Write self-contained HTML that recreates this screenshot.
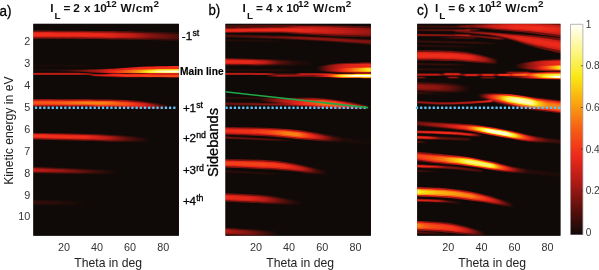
<!DOCTYPE html>
<html><head><meta charset="utf-8"><title>figure</title>
<style>
html,body{margin:0;padding:0;background:#fff}
svg{display:block}
text{font-family:"Liberation Sans",sans-serif;fill:#222}
.tt{font-weight:bold;font-size:11.8px;fill:#111}
.ss{font-size:9.9px}
.tk{font-size:10.8px;fill:#333}
.lb{font-size:12.2px;fill:#222}
.pl{font-size:15.4px;fill:#000;stroke:#000;stroke-width:.3px}
.sb{font-size:11.6px;fill:#000;stroke:#000;stroke-width:.3px}
.cb{font-size:10.1px;fill:#3a3a3a}
.i stop{stop-color:#fff}
</style></head><body>
<svg width="599" height="270" viewBox="0 0 599 270">
<defs>
<filter id="hot" filterUnits="userSpaceOnUse" x="0" y="0" width="599" height="270" color-interpolation-filters="sRGB">
<feComponentTransfer>
<feFuncR type="table" tableValues="0.06 0.38 0.70 0.935 0.965 0.975 0.98 0.99 1"/>
<feFuncG type="table" tableValues="0.04 0.065 0.10 0.165 0.36 0.65 0.91 0.965 1"/>
<feFuncB type="table" tableValues="0.03 0.05 0.08 0.105 0.08 0.065 0.08 0.54 0.985"/>
</feComponentTransfer>
</filter>
<filter id="bl" filterUnits="userSpaceOnUse" x="0" y="0" width="599" height="270" color-interpolation-filters="sRGB"><feGaussianBlur stdDeviation="1.0 0.55"/></filter>
<linearGradient id="cbar" x1="0" y1="1" x2="0" y2="0">
<stop offset="0" stop-color="#0f0a08"/><stop offset="0.125" stop-color="#5e100d"/><stop offset="0.25" stop-color="#b01a15"/><stop offset="0.375" stop-color="#ee2a1b"/><stop offset="0.5" stop-color="#f65c14"/><stop offset="0.625" stop-color="#f9a510"/><stop offset="0.75" stop-color="#f9e814"/><stop offset="0.875" stop-color="#fdf689"/><stop offset="1" stop-color="#fffffb"/>
</linearGradient>
<clipPath id="clipA"><rect x="33.3" y="23.8" width="145.6" height="211.9"/></clipPath><clipPath id="clipB"><rect x="225.4" y="23.8" width="145.5" height="211.9"/></clipPath><clipPath id="clipC"><rect x="417.2" y="23.8" width="143.3" height="211.9"/></clipPath><g class="i"><linearGradient id="g1" gradientUnits="userSpaceOnUse" x1="33.3" x2="178.9"><stop offset="0.000" stop-opacity="0.154"/><stop offset="0.458" stop-opacity="0.150"/><stop offset="0.650" stop-opacity="0.119"/><stop offset="0.815" stop-opacity="0.073"/><stop offset="1.000" stop-opacity="0.038"/></linearGradient><linearGradient id="g2" gradientUnits="userSpaceOnUse" x1="33.3" x2="178.9"><stop offset="0.000" stop-opacity="0.204"/><stop offset="0.458" stop-opacity="0.198"/><stop offset="0.650" stop-opacity="0.152"/><stop offset="0.815" stop-opacity="0.089"/><stop offset="1.000" stop-opacity="0.045"/></linearGradient><linearGradient id="g3" gradientUnits="userSpaceOnUse" x1="33.3" x2="178.9"><stop offset="0.000" stop-opacity="0.086"/><stop offset="0.458" stop-opacity="0.082"/><stop offset="0.650" stop-opacity="0.060"/><stop offset="0.815" stop-opacity="0.032"/><stop offset="1.000" stop-opacity="0.016"/></linearGradient><linearGradient id="g4" gradientUnits="userSpaceOnUse" x1="33.3" x2="100.0"><stop offset="0.000" stop-opacity="0.008"/><stop offset="0.700" stop-opacity="0.008"/><stop offset="1.000" stop-opacity="0.000"/></linearGradient><linearGradient id="g5" gradientUnits="userSpaceOnUse" x1="33.3" x2="100.0"><stop offset="0.000" stop-opacity="0.009"/><stop offset="0.700" stop-opacity="0.009"/><stop offset="1.000" stop-opacity="0.000"/></linearGradient><linearGradient id="g6" gradientUnits="userSpaceOnUse" x1="33.3" x2="100.0"><stop offset="0.000" stop-opacity="0.003"/><stop offset="0.700" stop-opacity="0.003"/><stop offset="1.000" stop-opacity="0.000"/></linearGradient><linearGradient id="g7" gradientUnits="userSpaceOnUse" x1="33.3" x2="110.0"><stop offset="0.000" stop-opacity="0.010"/><stop offset="0.739" stop-opacity="0.012"/><stop offset="1.000" stop-opacity="0.000"/></linearGradient><linearGradient id="g8" gradientUnits="userSpaceOnUse" x1="33.3" x2="110.0"><stop offset="0.000" stop-opacity="0.011"/><stop offset="0.739" stop-opacity="0.013"/><stop offset="1.000" stop-opacity="0.000"/></linearGradient><linearGradient id="g9" gradientUnits="userSpaceOnUse" x1="33.3" x2="110.0"><stop offset="0.000" stop-opacity="0.004"/><stop offset="0.739" stop-opacity="0.004"/><stop offset="1.000" stop-opacity="0.000"/></linearGradient><linearGradient id="g10" gradientUnits="userSpaceOnUse" x1="55.0" x2="178.9"><stop offset="0.000" stop-opacity="0.000"/><stop offset="0.161" stop-opacity="0.080"/><stop offset="0.299" stop-opacity="0.200"/><stop offset="0.428" stop-opacity="0.300"/><stop offset="0.565" stop-opacity="0.340"/><stop offset="0.726" stop-opacity="0.370"/><stop offset="1.000" stop-opacity="0.390"/></linearGradient><linearGradient id="g11" gradientUnits="userSpaceOnUse" x1="100.0" x2="178.9"><stop offset="0.000" stop-opacity="0.000"/><stop offset="0.203" stop-opacity="0.140"/><stop offset="0.355" stop-opacity="0.240"/><stop offset="0.532" stop-opacity="0.360"/><stop offset="0.735" stop-opacity="0.480"/><stop offset="1.000" stop-opacity="0.540"/></linearGradient><linearGradient id="g12" gradientUnits="userSpaceOnUse" x1="122.0" x2="178.9"><stop offset="0.000" stop-opacity="0.000"/><stop offset="0.316" stop-opacity="0.120"/><stop offset="0.580" stop-opacity="0.420"/><stop offset="1.000" stop-opacity="0.550"/></linearGradient><linearGradient id="g13" gradientUnits="userSpaceOnUse" x1="140.0" x2="178.9"><stop offset="0.000" stop-opacity="0.000"/><stop offset="0.308" stop-opacity="0.300"/><stop offset="0.566" stop-opacity="0.700"/><stop offset="0.823" stop-opacity="0.950"/><stop offset="1.000" stop-opacity="1.000"/></linearGradient><linearGradient id="g14" gradientUnits="userSpaceOnUse" x1="88.0" x2="178.9"><stop offset="0.000" stop-opacity="0.000"/><stop offset="0.187" stop-opacity="0.000"/><stop offset="0.407" style="stop-color:#000" stop-opacity="0.500"/><stop offset="0.682" style="stop-color:#000" stop-opacity="0.500"/><stop offset="1.000" style="stop-color:#000" stop-opacity="0.350"/></linearGradient><linearGradient id="g15" gradientUnits="userSpaceOnUse" x1="33.3" x2="178.9"><stop offset="0.000" stop-opacity="0.147"/><stop offset="0.307" stop-opacity="0.147"/><stop offset="0.376" stop-opacity="0.095"/><stop offset="0.444" stop-opacity="0.130"/><stop offset="0.630" stop-opacity="0.190"/><stop offset="1.000" stop-opacity="0.207"/></linearGradient><linearGradient id="g16" gradientUnits="userSpaceOnUse" x1="33.3" x2="178.9"><stop offset="0.000" stop-opacity="0.210"/><stop offset="0.307" stop-opacity="0.210"/><stop offset="0.376" stop-opacity="0.128"/><stop offset="0.444" stop-opacity="0.182"/><stop offset="0.630" stop-opacity="0.287"/><stop offset="1.000" stop-opacity="0.320"/></linearGradient><linearGradient id="g17" gradientUnits="userSpaceOnUse" x1="33.3" x2="172.0"><stop offset="0.000" stop-opacity="0.192"/><stop offset="0.193" stop-opacity="0.200"/><stop offset="0.373" stop-opacity="0.226"/><stop offset="0.517" stop-opacity="0.226"/><stop offset="0.661" stop-opacity="0.192"/><stop offset="0.805" stop-opacity="0.127"/><stop offset="0.913" stop-opacity="0.050"/><stop offset="1.000" stop-opacity="0.000"/></linearGradient><linearGradient id="g18" gradientUnits="userSpaceOnUse" x1="33.3" x2="172.0"><stop offset="0.000" stop-opacity="0.267"/><stop offset="0.193" stop-opacity="0.282"/><stop offset="0.373" stop-opacity="0.328"/><stop offset="0.517" stop-opacity="0.328"/><stop offset="0.661" stop-opacity="0.267"/><stop offset="0.805" stop-opacity="0.163"/><stop offset="0.913" stop-opacity="0.059"/><stop offset="1.000" stop-opacity="0.000"/></linearGradient><linearGradient id="g19" gradientUnits="userSpaceOnUse" x1="33.3" x2="172.0"><stop offset="0.000" stop-opacity="0.122"/><stop offset="0.193" stop-opacity="0.131"/><stop offset="0.373" stop-opacity="0.163"/><stop offset="0.517" stop-opacity="0.163"/><stop offset="0.661" stop-opacity="0.122"/><stop offset="0.805" stop-opacity="0.065"/><stop offset="0.913" stop-opacity="0.021"/><stop offset="1.000" stop-opacity="0.000"/></linearGradient><linearGradient id="g20" gradientUnits="userSpaceOnUse" x1="33.3" x2="150.0"><stop offset="0.000" stop-opacity="0.161"/><stop offset="0.443" stop-opacity="0.154"/><stop offset="0.640" stop-opacity="0.108"/><stop offset="0.811" stop-opacity="0.046"/><stop offset="1.000" stop-opacity="0.000"/></linearGradient><linearGradient id="g21" gradientUnits="userSpaceOnUse" x1="33.3" x2="150.0"><stop offset="0.000" stop-opacity="0.216"/><stop offset="0.443" stop-opacity="0.204"/><stop offset="0.640" stop-opacity="0.136"/><stop offset="0.811" stop-opacity="0.054"/><stop offset="1.000" stop-opacity="0.000"/></linearGradient><linearGradient id="g22" gradientUnits="userSpaceOnUse" x1="33.3" x2="150.0"><stop offset="0.000" stop-opacity="0.092"/><stop offset="0.443" stop-opacity="0.086"/><stop offset="0.640" stop-opacity="0.052"/><stop offset="0.811" stop-opacity="0.019"/><stop offset="1.000" stop-opacity="0.000"/></linearGradient><linearGradient id="g23" gradientUnits="userSpaceOnUse" x1="33.3" x2="118.0"><stop offset="0.000" stop-opacity="0.111"/><stop offset="0.339" stop-opacity="0.084"/><stop offset="0.693" stop-opacity="0.035"/><stop offset="1.000" stop-opacity="0.000"/></linearGradient><linearGradient id="g24" gradientUnits="userSpaceOnUse" x1="33.3" x2="118.0"><stop offset="0.000" stop-opacity="0.141"/><stop offset="0.339" stop-opacity="0.104"/><stop offset="0.693" stop-opacity="0.040"/><stop offset="1.000" stop-opacity="0.000"/></linearGradient><linearGradient id="g25" gradientUnits="userSpaceOnUse" x1="33.3" x2="118.0"><stop offset="0.000" stop-opacity="0.055"/><stop offset="0.339" stop-opacity="0.039"/><stop offset="0.693" stop-opacity="0.014"/><stop offset="1.000" stop-opacity="0.000"/></linearGradient><linearGradient id="g26" gradientUnits="userSpaceOnUse" x1="33.3" x2="88.0"><stop offset="0.000" stop-opacity="0.025"/><stop offset="0.488" stop-opacity="0.015"/><stop offset="1.000" stop-opacity="0.000"/></linearGradient><linearGradient id="g27" gradientUnits="userSpaceOnUse" x1="33.3" x2="88.0"><stop offset="0.000" stop-opacity="0.029"/><stop offset="0.488" stop-opacity="0.018"/><stop offset="1.000" stop-opacity="0.000"/></linearGradient><linearGradient id="g28" gradientUnits="userSpaceOnUse" x1="33.3" x2="88.0"><stop offset="0.000" stop-opacity="0.010"/><stop offset="0.488" stop-opacity="0.006"/><stop offset="1.000" stop-opacity="0.000"/></linearGradient><linearGradient id="g29" gradientUnits="userSpaceOnUse" x1="225.4" x2="370.9"><stop offset="0.000" stop-opacity="0.038"/><stop offset="0.444" stop-opacity="0.046"/><stop offset="0.719" stop-opacity="0.023"/><stop offset="1.000" stop-opacity="0.012"/></linearGradient><linearGradient id="g30" gradientUnits="userSpaceOnUse" x1="225.4" x2="370.9"><stop offset="0.000" stop-opacity="0.045"/><stop offset="0.444" stop-opacity="0.054"/><stop offset="0.719" stop-opacity="0.027"/><stop offset="1.000" stop-opacity="0.013"/></linearGradient><linearGradient id="g31" gradientUnits="userSpaceOnUse" x1="225.4" x2="370.9"><stop offset="0.000" stop-opacity="0.016"/><stop offset="0.444" stop-opacity="0.019"/><stop offset="0.719" stop-opacity="0.009"/><stop offset="1.000" stop-opacity="0.004"/></linearGradient><linearGradient id="g32" gradientUnits="userSpaceOnUse" x1="225.4" x2="370.9"><stop offset="0.000" stop-opacity="0.146"/><stop offset="0.238" stop-opacity="0.150"/><stop offset="0.513" stop-opacity="0.146"/><stop offset="0.753" stop-opacity="0.119"/><stop offset="1.000" stop-opacity="0.084"/></linearGradient><linearGradient id="g33" gradientUnits="userSpaceOnUse" x1="225.4" x2="370.9"><stop offset="0.000" stop-opacity="0.192"/><stop offset="0.238" stop-opacity="0.198"/><stop offset="0.513" stop-opacity="0.192"/><stop offset="0.753" stop-opacity="0.152"/><stop offset="1.000" stop-opacity="0.104"/></linearGradient><linearGradient id="g34" gradientUnits="userSpaceOnUse" x1="225.4" x2="370.9"><stop offset="0.000" stop-opacity="0.079"/><stop offset="0.238" stop-opacity="0.082"/><stop offset="0.513" stop-opacity="0.079"/><stop offset="0.753" stop-opacity="0.060"/><stop offset="1.000" stop-opacity="0.039"/></linearGradient><linearGradient id="g35" gradientUnits="userSpaceOnUse" x1="225.4" x2="370.9"><stop offset="0.000" stop-opacity="0.038"/><stop offset="0.307" stop-opacity="0.054"/><stop offset="0.513" stop-opacity="0.077"/><stop offset="0.788" stop-opacity="0.077"/><stop offset="1.000" stop-opacity="0.065"/></linearGradient><linearGradient id="g36" gradientUnits="userSpaceOnUse" x1="225.4" x2="370.9"><stop offset="0.000" stop-opacity="0.045"/><stop offset="0.307" stop-opacity="0.064"/><stop offset="0.513" stop-opacity="0.094"/><stop offset="0.788" stop-opacity="0.094"/><stop offset="1.000" stop-opacity="0.079"/></linearGradient><linearGradient id="g37" gradientUnits="userSpaceOnUse" x1="225.4" x2="370.9"><stop offset="0.000" stop-opacity="0.016"/><stop offset="0.307" stop-opacity="0.023"/><stop offset="0.513" stop-opacity="0.034"/><stop offset="0.788" stop-opacity="0.034"/><stop offset="1.000" stop-opacity="0.028"/></linearGradient><linearGradient id="g38" gradientUnits="userSpaceOnUse" x1="225.4" x2="285.0"><stop offset="0.000" stop-opacity="0.015"/><stop offset="0.748" stop-opacity="0.012"/><stop offset="1.000" stop-opacity="0.000"/></linearGradient><linearGradient id="g39" gradientUnits="userSpaceOnUse" x1="225.4" x2="285.0"><stop offset="0.000" stop-opacity="0.018"/><stop offset="0.748" stop-opacity="0.013"/><stop offset="1.000" stop-opacity="0.000"/></linearGradient><linearGradient id="g40" gradientUnits="userSpaceOnUse" x1="225.4" x2="285.0"><stop offset="0.000" stop-opacity="0.006"/><stop offset="0.748" stop-opacity="0.004"/><stop offset="1.000" stop-opacity="0.000"/></linearGradient><linearGradient id="g41" gradientUnits="userSpaceOnUse" x1="225.4" x2="315.0"><stop offset="0.000" stop-opacity="0.150"/><stop offset="0.275" stop-opacity="0.146"/><stop offset="0.442" stop-opacity="0.115"/><stop offset="0.587" stop-opacity="0.054"/><stop offset="0.743" stop-opacity="0.019"/><stop offset="1.000" stop-opacity="0.000"/></linearGradient><linearGradient id="g42" gradientUnits="userSpaceOnUse" x1="225.4" x2="315.0"><stop offset="0.000" stop-opacity="0.198"/><stop offset="0.275" stop-opacity="0.192"/><stop offset="0.442" stop-opacity="0.146"/><stop offset="0.587" stop-opacity="0.064"/><stop offset="0.743" stop-opacity="0.022"/><stop offset="1.000" stop-opacity="0.000"/></linearGradient><linearGradient id="g43" gradientUnits="userSpaceOnUse" x1="225.4" x2="315.0"><stop offset="0.000" stop-opacity="0.082"/><stop offset="0.275" stop-opacity="0.079"/><stop offset="0.442" stop-opacity="0.057"/><stop offset="0.587" stop-opacity="0.023"/><stop offset="0.743" stop-opacity="0.008"/><stop offset="1.000" stop-opacity="0.000"/></linearGradient><linearGradient id="g44" gradientUnits="userSpaceOnUse" x1="225.4" x2="295.0"><stop offset="0.000" stop-opacity="0.015"/><stop offset="0.784" stop-opacity="0.015"/><stop offset="1.000" stop-opacity="0.000"/></linearGradient><linearGradient id="g45" gradientUnits="userSpaceOnUse" x1="225.4" x2="295.0"><stop offset="0.000" stop-opacity="0.018"/><stop offset="0.784" stop-opacity="0.018"/><stop offset="1.000" stop-opacity="0.000"/></linearGradient><linearGradient id="g46" gradientUnits="userSpaceOnUse" x1="225.4" x2="295.0"><stop offset="0.000" stop-opacity="0.006"/><stop offset="0.784" stop-opacity="0.006"/><stop offset="1.000" stop-opacity="0.000"/></linearGradient><linearGradient id="g47" gradientUnits="userSpaceOnUse" x1="225.4" x2="340.0"><stop offset="0.000" stop-opacity="0.143"/><stop offset="0.319" stop-opacity="0.138"/><stop offset="0.389" stop-opacity="0.108"/><stop offset="0.442" stop-opacity="0.035"/><stop offset="0.616" stop-opacity="0.035"/><stop offset="0.668" stop-opacity="0.121"/><stop offset="0.825" stop-opacity="0.117"/><stop offset="0.930" stop-opacity="0.086"/><stop offset="1.000" stop-opacity="0.000"/></linearGradient><linearGradient id="g48" gradientUnits="userSpaceOnUse" x1="225.4" x2="340.0"><stop offset="0.000" stop-opacity="0.203"/><stop offset="0.319" stop-opacity="0.196"/><stop offset="0.389" stop-opacity="0.148"/><stop offset="0.442" stop-opacity="0.044"/><stop offset="0.616" stop-opacity="0.044"/><stop offset="0.668" stop-opacity="0.168"/><stop offset="0.825" stop-opacity="0.161"/><stop offset="0.930" stop-opacity="0.116"/><stop offset="1.000" stop-opacity="0.000"/></linearGradient><linearGradient id="g49" gradientUnits="userSpaceOnUse" x1="266.0" x2="370.9"><stop offset="0.000" stop-opacity="0.000"/><stop offset="0.114" stop-opacity="0.125"/><stop offset="0.305" stop-opacity="0.110"/><stop offset="0.439" stop-opacity="0.080"/><stop offset="0.534" stop-opacity="0.125"/><stop offset="0.610" stop-opacity="0.210"/><stop offset="0.686" stop-opacity="0.300"/><stop offset="0.763" stop-opacity="0.350"/><stop offset="1.000" stop-opacity="0.375"/></linearGradient><linearGradient id="g50" gradientUnits="userSpaceOnUse" x1="266.0" x2="370.9"><stop offset="0.000" stop-opacity="0.000"/><stop offset="0.114" stop-opacity="0.143"/><stop offset="0.305" stop-opacity="0.124"/><stop offset="0.439" stop-opacity="0.087"/><stop offset="0.534" stop-opacity="0.143"/><stop offset="0.610" stop-opacity="0.266"/><stop offset="0.686" stop-opacity="0.429"/><stop offset="0.763" stop-opacity="0.538"/><stop offset="1.000" stop-opacity="0.600"/></linearGradient><linearGradient id="g51" gradientUnits="userSpaceOnUse" x1="330.0" x2="370.9"><stop offset="0.000" stop-opacity="0.000"/><stop offset="0.171" stop-opacity="0.250"/><stop offset="0.367" stop-opacity="0.500"/><stop offset="0.587" stop-opacity="1.000"/><stop offset="1.000" stop-opacity="1.000"/></linearGradient><linearGradient id="g52" gradientUnits="userSpaceOnUse" x1="316.0" x2="370.9"><stop offset="0.000" stop-opacity="0.000"/><stop offset="0.255" stop-opacity="0.100"/><stop offset="0.528" stop-opacity="0.165"/><stop offset="1.000" stop-opacity="0.190"/></linearGradient><linearGradient id="g53" gradientUnits="userSpaceOnUse" x1="316.0" x2="370.9"><stop offset="0.000" stop-opacity="0.000"/><stop offset="0.255" stop-opacity="0.111"/><stop offset="0.528" stop-opacity="0.198"/><stop offset="1.000" stop-opacity="0.235"/></linearGradient><linearGradient id="g54" gradientUnits="userSpaceOnUse" x1="330.0" x2="370.9"><stop offset="0.000" stop-opacity="0.000"/><stop offset="0.293" stop-opacity="0.050"/><stop offset="0.489" stop-opacity="0.125"/><stop offset="0.733" stop-opacity="0.225"/><stop offset="1.000" stop-opacity="0.330"/></linearGradient><linearGradient id="g55" gradientUnits="userSpaceOnUse" x1="330.0" x2="370.9"><stop offset="0.000" stop-opacity="0.000"/><stop offset="0.293" stop-opacity="0.053"/><stop offset="0.489" stop-opacity="0.143"/><stop offset="0.733" stop-opacity="0.290"/><stop offset="1.000" stop-opacity="0.493"/></linearGradient><linearGradient id="g56" gradientUnits="userSpaceOnUse" x1="225.4" x2="290.0"><stop offset="0.000" stop-opacity="0.019"/><stop offset="0.690" stop-opacity="0.019"/><stop offset="1.000" stop-opacity="0.000"/></linearGradient><linearGradient id="g57" gradientUnits="userSpaceOnUse" x1="225.4" x2="290.0"><stop offset="0.000" stop-opacity="0.022"/><stop offset="0.690" stop-opacity="0.022"/><stop offset="1.000" stop-opacity="0.000"/></linearGradient><linearGradient id="g58" gradientUnits="userSpaceOnUse" x1="225.4" x2="290.0"><stop offset="0.000" stop-opacity="0.008"/><stop offset="0.690" stop-opacity="0.008"/><stop offset="1.000" stop-opacity="0.000"/></linearGradient><linearGradient id="g59" gradientUnits="userSpaceOnUse" x1="225.4" x2="318.0"><stop offset="0.000" stop-opacity="0.058"/><stop offset="0.590" stop-opacity="0.077"/><stop offset="0.806" stop-opacity="0.065"/><stop offset="1.000" stop-opacity="0.000"/></linearGradient><linearGradient id="g60" gradientUnits="userSpaceOnUse" x1="225.4" x2="318.0"><stop offset="0.000" stop-opacity="0.069"/><stop offset="0.590" stop-opacity="0.094"/><stop offset="0.806" stop-opacity="0.079"/><stop offset="1.000" stop-opacity="0.000"/></linearGradient><linearGradient id="g61" gradientUnits="userSpaceOnUse" x1="225.4" x2="318.0"><stop offset="0.000" stop-opacity="0.025"/><stop offset="0.590" stop-opacity="0.034"/><stop offset="0.806" stop-opacity="0.028"/><stop offset="1.000" stop-opacity="0.000"/></linearGradient><linearGradient id="g62" gradientUnits="userSpaceOnUse" x1="258.0" x2="369.0"><stop offset="0.000" stop-opacity="0.000"/><stop offset="0.108" stop-opacity="0.054"/><stop offset="0.234" stop-opacity="0.108"/><stop offset="0.360" stop-opacity="0.138"/><stop offset="0.486" stop-opacity="0.177"/><stop offset="0.595" stop-opacity="0.217"/><stop offset="0.703" stop-opacity="0.200"/><stop offset="0.811" stop-opacity="0.154"/><stop offset="0.919" stop-opacity="0.108"/><stop offset="1.000" stop-opacity="0.038"/></linearGradient><linearGradient id="g63" gradientUnits="userSpaceOnUse" x1="258.0" x2="369.0"><stop offset="0.000" stop-opacity="0.000"/><stop offset="0.108" stop-opacity="0.064"/><stop offset="0.234" stop-opacity="0.136"/><stop offset="0.360" stop-opacity="0.180"/><stop offset="0.486" stop-opacity="0.241"/><stop offset="0.595" stop-opacity="0.312"/><stop offset="0.703" stop-opacity="0.282"/><stop offset="0.811" stop-opacity="0.204"/><stop offset="0.919" stop-opacity="0.136"/><stop offset="1.000" stop-opacity="0.045"/></linearGradient><linearGradient id="g64" gradientUnits="userSpaceOnUse" x1="258.0" x2="369.0"><stop offset="0.000" stop-opacity="0.000"/><stop offset="0.108" stop-opacity="0.023"/><stop offset="0.234" stop-opacity="0.052"/><stop offset="0.360" stop-opacity="0.073"/><stop offset="0.486" stop-opacity="0.106"/><stop offset="0.595" stop-opacity="0.151"/><stop offset="0.703" stop-opacity="0.131"/><stop offset="0.811" stop-opacity="0.086"/><stop offset="0.919" stop-opacity="0.052"/><stop offset="1.000" stop-opacity="0.016"/></linearGradient><linearGradient id="g65" gradientUnits="userSpaceOnUse" x1="225.4" x2="370.9"><stop offset="0.000" stop-opacity="0.154"/><stop offset="0.169" stop-opacity="0.157"/><stop offset="0.307" stop-opacity="0.184"/><stop offset="0.410" stop-opacity="0.226"/><stop offset="0.499" stop-opacity="0.226"/><stop offset="0.581" stop-opacity="0.161"/><stop offset="0.664" stop-opacity="0.100"/><stop offset="0.740" stop-opacity="0.038"/><stop offset="0.808" stop-opacity="0.012"/><stop offset="1.000" stop-opacity="0.004"/></linearGradient><linearGradient id="g66" gradientUnits="userSpaceOnUse" x1="225.4" x2="370.9"><stop offset="0.000" stop-opacity="0.204"/><stop offset="0.169" stop-opacity="0.210"/><stop offset="0.307" stop-opacity="0.254"/><stop offset="0.410" stop-opacity="0.328"/><stop offset="0.499" stop-opacity="0.328"/><stop offset="0.581" stop-opacity="0.216"/><stop offset="0.664" stop-opacity="0.125"/><stop offset="0.740" stop-opacity="0.045"/><stop offset="0.808" stop-opacity="0.013"/><stop offset="1.000" stop-opacity="0.004"/></linearGradient><linearGradient id="g67" gradientUnits="userSpaceOnUse" x1="225.4" x2="370.9"><stop offset="0.000" stop-opacity="0.086"/><stop offset="0.169" stop-opacity="0.089"/><stop offset="0.307" stop-opacity="0.114"/><stop offset="0.410" stop-opacity="0.163"/><stop offset="0.499" stop-opacity="0.163"/><stop offset="0.581" stop-opacity="0.092"/><stop offset="0.664" stop-opacity="0.048"/><stop offset="0.740" stop-opacity="0.016"/><stop offset="0.808" stop-opacity="0.004"/><stop offset="1.000" stop-opacity="0.001"/></linearGradient><linearGradient id="g68" gradientUnits="userSpaceOnUse" x1="225.4" x2="295.0"><stop offset="0.000" stop-opacity="0.065"/><stop offset="0.641" stop-opacity="0.042"/><stop offset="1.000" stop-opacity="0.000"/></linearGradient><linearGradient id="g69" gradientUnits="userSpaceOnUse" x1="225.4" x2="295.0"><stop offset="0.000" stop-opacity="0.079"/><stop offset="0.641" stop-opacity="0.050"/><stop offset="1.000" stop-opacity="0.000"/></linearGradient><linearGradient id="g70" gradientUnits="userSpaceOnUse" x1="225.4" x2="295.0"><stop offset="0.000" stop-opacity="0.028"/><stop offset="0.641" stop-opacity="0.017"/><stop offset="1.000" stop-opacity="0.000"/></linearGradient><linearGradient id="g71" gradientUnits="userSpaceOnUse" x1="225.4" x2="328.0"><stop offset="0.000" stop-opacity="0.173"/><stop offset="0.357" stop-opacity="0.177"/><stop offset="0.581" stop-opacity="0.161"/><stop offset="0.747" stop-opacity="0.115"/><stop offset="0.883" stop-opacity="0.038"/><stop offset="1.000" stop-opacity="0.000"/></linearGradient><linearGradient id="g72" gradientUnits="userSpaceOnUse" x1="225.4" x2="328.0"><stop offset="0.000" stop-opacity="0.235"/><stop offset="0.357" stop-opacity="0.241"/><stop offset="0.581" stop-opacity="0.216"/><stop offset="0.747" stop-opacity="0.146"/><stop offset="0.883" stop-opacity="0.045"/><stop offset="1.000" stop-opacity="0.000"/></linearGradient><linearGradient id="g73" gradientUnits="userSpaceOnUse" x1="225.4" x2="328.0"><stop offset="0.000" stop-opacity="0.102"/><stop offset="0.357" stop-opacity="0.106"/><stop offset="0.581" stop-opacity="0.092"/><stop offset="0.747" stop-opacity="0.057"/><stop offset="0.883" stop-opacity="0.016"/><stop offset="1.000" stop-opacity="0.000"/></linearGradient><linearGradient id="g74" gradientUnits="userSpaceOnUse" x1="225.4" x2="285.0"><stop offset="0.000" stop-opacity="0.023"/><stop offset="0.664" stop-opacity="0.015"/><stop offset="1.000" stop-opacity="0.000"/></linearGradient><linearGradient id="g75" gradientUnits="userSpaceOnUse" x1="225.4" x2="285.0"><stop offset="0.000" stop-opacity="0.027"/><stop offset="0.664" stop-opacity="0.018"/><stop offset="1.000" stop-opacity="0.000"/></linearGradient><linearGradient id="g76" gradientUnits="userSpaceOnUse" x1="225.4" x2="285.0"><stop offset="0.000" stop-opacity="0.009"/><stop offset="0.664" stop-opacity="0.006"/><stop offset="1.000" stop-opacity="0.000"/></linearGradient><linearGradient id="g77" gradientUnits="userSpaceOnUse" x1="225.4" x2="303.0"><stop offset="0.000" stop-opacity="0.150"/><stop offset="0.317" stop-opacity="0.142"/><stop offset="0.523" stop-opacity="0.104"/><stop offset="0.704" stop-opacity="0.054"/><stop offset="0.858" stop-opacity="0.019"/><stop offset="1.000" stop-opacity="0.000"/></linearGradient><linearGradient id="g78" gradientUnits="userSpaceOnUse" x1="225.4" x2="303.0"><stop offset="0.000" stop-opacity="0.198"/><stop offset="0.317" stop-opacity="0.186"/><stop offset="0.523" stop-opacity="0.130"/><stop offset="0.704" stop-opacity="0.064"/><stop offset="0.858" stop-opacity="0.022"/><stop offset="1.000" stop-opacity="0.000"/></linearGradient><linearGradient id="g79" gradientUnits="userSpaceOnUse" x1="225.4" x2="303.0"><stop offset="0.000" stop-opacity="0.082"/><stop offset="0.317" stop-opacity="0.076"/><stop offset="0.523" stop-opacity="0.050"/><stop offset="0.704" stop-opacity="0.023"/><stop offset="0.858" stop-opacity="0.008"/><stop offset="1.000" stop-opacity="0.000"/></linearGradient><linearGradient id="g80" gradientUnits="userSpaceOnUse" x1="225.4" x2="280.0"><stop offset="0.000" stop-opacity="0.104"/><stop offset="0.451" stop-opacity="0.069"/><stop offset="0.780" stop-opacity="0.023"/><stop offset="1.000" stop-opacity="0.000"/></linearGradient><linearGradient id="g81" gradientUnits="userSpaceOnUse" x1="225.4" x2="280.0"><stop offset="0.000" stop-opacity="0.130"/><stop offset="0.451" stop-opacity="0.084"/><stop offset="0.780" stop-opacity="0.027"/><stop offset="1.000" stop-opacity="0.000"/></linearGradient><linearGradient id="g82" gradientUnits="userSpaceOnUse" x1="225.4" x2="280.0"><stop offset="0.000" stop-opacity="0.050"/><stop offset="0.451" stop-opacity="0.030"/><stop offset="0.780" stop-opacity="0.009"/><stop offset="1.000" stop-opacity="0.000"/></linearGradient><linearGradient id="g83" gradientUnits="userSpaceOnUse" x1="417.2" x2="470.0"><stop offset="0.000" stop-opacity="0.027"/><stop offset="1.000" stop-opacity="0.038"/></linearGradient><linearGradient id="g84" gradientUnits="userSpaceOnUse" x1="417.2" x2="470.0"><stop offset="0.000" stop-opacity="0.031"/><stop offset="1.000" stop-opacity="0.045"/></linearGradient><linearGradient id="g85" gradientUnits="userSpaceOnUse" x1="417.2" x2="470.0"><stop offset="0.000" stop-opacity="0.011"/><stop offset="1.000" stop-opacity="0.016"/></linearGradient><linearGradient id="g86" gradientUnits="userSpaceOnUse" x1="417.2" x2="470.0"><stop offset="0.000" stop-opacity="0.038"/><stop offset="0.716" stop-opacity="0.058"/><stop offset="1.000" stop-opacity="0.084"/></linearGradient><linearGradient id="g87" gradientUnits="userSpaceOnUse" x1="417.2" x2="470.0"><stop offset="0.000" stop-opacity="0.045"/><stop offset="0.716" stop-opacity="0.069"/><stop offset="1.000" stop-opacity="0.104"/></linearGradient><linearGradient id="g88" gradientUnits="userSpaceOnUse" x1="417.2" x2="470.0"><stop offset="0.000" stop-opacity="0.016"/><stop offset="0.716" stop-opacity="0.025"/><stop offset="1.000" stop-opacity="0.039"/></linearGradient><linearGradient id="g89" gradientUnits="userSpaceOnUse" x1="417.2" x2="470.0"><stop offset="0.000" stop-opacity="0.092"/><stop offset="0.621" stop-opacity="0.077"/><stop offset="1.000" stop-opacity="0.069"/></linearGradient><linearGradient id="g90" gradientUnits="userSpaceOnUse" x1="417.2" x2="470.0"><stop offset="0.000" stop-opacity="0.114"/><stop offset="0.621" stop-opacity="0.094"/><stop offset="1.000" stop-opacity="0.084"/></linearGradient><linearGradient id="g91" gradientUnits="userSpaceOnUse" x1="417.2" x2="470.0"><stop offset="0.000" stop-opacity="0.043"/><stop offset="0.621" stop-opacity="0.034"/><stop offset="1.000" stop-opacity="0.030"/></linearGradient><linearGradient id="g92" gradientUnits="userSpaceOnUse" x1="440.0" x2="475.0"><stop offset="0.000" stop-opacity="0.000"/><stop offset="0.429" stop-opacity="0.038"/><stop offset="1.000" stop-opacity="0.038"/></linearGradient><linearGradient id="g93" gradientUnits="userSpaceOnUse" x1="440.0" x2="475.0"><stop offset="0.000" stop-opacity="0.000"/><stop offset="0.429" stop-opacity="0.045"/><stop offset="1.000" stop-opacity="0.045"/></linearGradient><linearGradient id="g94" gradientUnits="userSpaceOnUse" x1="440.0" x2="475.0"><stop offset="0.000" stop-opacity="0.000"/><stop offset="0.429" stop-opacity="0.016"/><stop offset="1.000" stop-opacity="0.016"/></linearGradient><linearGradient id="g95" gradientUnits="userSpaceOnUse" x1="417.2" x2="500.0"><stop offset="0.000" stop-opacity="0.027"/><stop offset="0.758" stop-opacity="0.027"/><stop offset="1.000" stop-opacity="0.000"/></linearGradient><linearGradient id="g96" gradientUnits="userSpaceOnUse" x1="417.2" x2="500.0"><stop offset="0.000" stop-opacity="0.031"/><stop offset="0.758" stop-opacity="0.031"/><stop offset="1.000" stop-opacity="0.000"/></linearGradient><linearGradient id="g97" gradientUnits="userSpaceOnUse" x1="417.2" x2="500.0"><stop offset="0.000" stop-opacity="0.011"/><stop offset="0.758" stop-opacity="0.011"/><stop offset="1.000" stop-opacity="0.000"/></linearGradient><linearGradient id="g98" gradientUnits="userSpaceOnUse" x1="417.2" x2="480.0"><stop offset="0.000" stop-opacity="0.019"/><stop offset="0.682" stop-opacity="0.015"/><stop offset="1.000" stop-opacity="0.000"/></linearGradient><linearGradient id="g99" gradientUnits="userSpaceOnUse" x1="417.2" x2="480.0"><stop offset="0.000" stop-opacity="0.022"/><stop offset="0.682" stop-opacity="0.018"/><stop offset="1.000" stop-opacity="0.000"/></linearGradient><linearGradient id="g100" gradientUnits="userSpaceOnUse" x1="417.2" x2="480.0"><stop offset="0.000" stop-opacity="0.008"/><stop offset="0.682" stop-opacity="0.006"/><stop offset="1.000" stop-opacity="0.000"/></linearGradient><linearGradient id="g101" gradientUnits="userSpaceOnUse" x1="458.0" x2="560.5"><stop offset="0.000" stop-opacity="0.031"/><stop offset="0.176" stop-opacity="0.077"/><stop offset="0.361" stop-opacity="0.127"/><stop offset="0.556" stop-opacity="0.150"/><stop offset="0.800" stop-opacity="0.154"/><stop offset="1.000" stop-opacity="0.138"/></linearGradient><linearGradient id="g102" gradientUnits="userSpaceOnUse" x1="458.0" x2="560.5"><stop offset="0.000" stop-opacity="0.036"/><stop offset="0.176" stop-opacity="0.094"/><stop offset="0.361" stop-opacity="0.163"/><stop offset="0.556" stop-opacity="0.198"/><stop offset="0.800" stop-opacity="0.204"/><stop offset="1.000" stop-opacity="0.180"/></linearGradient><linearGradient id="g103" gradientUnits="userSpaceOnUse" x1="458.0" x2="560.5"><stop offset="0.000" stop-opacity="0.012"/><stop offset="0.176" stop-opacity="0.034"/><stop offset="0.361" stop-opacity="0.065"/><stop offset="0.556" stop-opacity="0.082"/><stop offset="0.800" stop-opacity="0.086"/><stop offset="1.000" stop-opacity="0.073"/></linearGradient><linearGradient id="g104" gradientUnits="userSpaceOnUse" x1="455.0" x2="560.5"><stop offset="0.000" stop-opacity="0.038"/><stop offset="0.218" stop-opacity="0.077"/><stop offset="0.427" stop-opacity="0.115"/><stop offset="0.616" stop-opacity="0.146"/><stop offset="1.000" stop-opacity="0.150"/></linearGradient><linearGradient id="g105" gradientUnits="userSpaceOnUse" x1="455.0" x2="560.5"><stop offset="0.000" stop-opacity="0.045"/><stop offset="0.218" stop-opacity="0.094"/><stop offset="0.427" stop-opacity="0.146"/><stop offset="0.616" stop-opacity="0.192"/><stop offset="1.000" stop-opacity="0.198"/></linearGradient><linearGradient id="g106" gradientUnits="userSpaceOnUse" x1="455.0" x2="560.5"><stop offset="0.000" stop-opacity="0.016"/><stop offset="0.218" stop-opacity="0.034"/><stop offset="0.427" stop-opacity="0.057"/><stop offset="0.616" stop-opacity="0.079"/><stop offset="1.000" stop-opacity="0.082"/></linearGradient><linearGradient id="g107" gradientUnits="userSpaceOnUse" x1="466.0" x2="560.5"><stop offset="0.000" stop-opacity="0.000"/><stop offset="0.148" style="stop-color:#000" stop-opacity="0.500"/><stop offset="0.571" style="stop-color:#000" stop-opacity="0.450"/><stop offset="0.836" style="stop-color:#000" stop-opacity="0.300"/><stop offset="1.000" style="stop-color:#000" stop-opacity="0.200"/></linearGradient><linearGradient id="g108" gradientUnits="userSpaceOnUse" x1="455.0" x2="506.0"><stop offset="0.000" stop-opacity="0.031"/><stop offset="0.392" stop-opacity="0.061"/><stop offset="0.843" stop-opacity="0.084"/><stop offset="1.000" stop-opacity="0.000"/></linearGradient><linearGradient id="g109" gradientUnits="userSpaceOnUse" x1="455.0" x2="506.0"><stop offset="0.000" stop-opacity="0.036"/><stop offset="0.392" stop-opacity="0.074"/><stop offset="0.843" stop-opacity="0.104"/><stop offset="1.000" stop-opacity="0.000"/></linearGradient><linearGradient id="g110" gradientUnits="userSpaceOnUse" x1="455.0" x2="506.0"><stop offset="0.000" stop-opacity="0.012"/><stop offset="0.392" stop-opacity="0.026"/><stop offset="0.843" stop-opacity="0.039"/><stop offset="1.000" stop-opacity="0.000"/></linearGradient><linearGradient id="g111" gradientUnits="userSpaceOnUse" x1="417.2" x2="497.0"><stop offset="0.000" stop-opacity="0.154"/><stop offset="0.411" stop-opacity="0.154"/><stop offset="0.662" stop-opacity="0.146"/><stop offset="0.850" stop-opacity="0.096"/><stop offset="1.000" stop-opacity="0.019"/></linearGradient><linearGradient id="g112" gradientUnits="userSpaceOnUse" x1="417.2" x2="497.0"><stop offset="0.000" stop-opacity="0.204"/><stop offset="0.411" stop-opacity="0.204"/><stop offset="0.662" stop-opacity="0.192"/><stop offset="0.850" stop-opacity="0.119"/><stop offset="1.000" stop-opacity="0.022"/></linearGradient><linearGradient id="g113" gradientUnits="userSpaceOnUse" x1="417.2" x2="497.0"><stop offset="0.000" stop-opacity="0.086"/><stop offset="0.411" stop-opacity="0.086"/><stop offset="0.662" stop-opacity="0.079"/><stop offset="0.850" stop-opacity="0.045"/><stop offset="1.000" stop-opacity="0.008"/></linearGradient><linearGradient id="g114" gradientUnits="userSpaceOnUse" x1="417.2" x2="470.0"><stop offset="0.000" stop-opacity="0.027"/><stop offset="0.621" stop-opacity="0.023"/><stop offset="1.000" stop-opacity="0.000"/></linearGradient><linearGradient id="g115" gradientUnits="userSpaceOnUse" x1="417.2" x2="470.0"><stop offset="0.000" stop-opacity="0.031"/><stop offset="0.621" stop-opacity="0.027"/><stop offset="1.000" stop-opacity="0.000"/></linearGradient><linearGradient id="g116" gradientUnits="userSpaceOnUse" x1="417.2" x2="470.0"><stop offset="0.000" stop-opacity="0.011"/><stop offset="0.621" stop-opacity="0.009"/><stop offset="1.000" stop-opacity="0.000"/></linearGradient><linearGradient id="g117" gradientUnits="userSpaceOnUse" x1="417.2" x2="470.0"><stop offset="0.000" stop-opacity="0.019"/><stop offset="0.621" stop-opacity="0.015"/><stop offset="1.000" stop-opacity="0.000"/></linearGradient><linearGradient id="g118" gradientUnits="userSpaceOnUse" x1="417.2" x2="470.0"><stop offset="0.000" stop-opacity="0.022"/><stop offset="0.621" stop-opacity="0.018"/><stop offset="1.000" stop-opacity="0.000"/></linearGradient><linearGradient id="g119" gradientUnits="userSpaceOnUse" x1="417.2" x2="470.0"><stop offset="0.000" stop-opacity="0.008"/><stop offset="0.621" stop-opacity="0.006"/><stop offset="1.000" stop-opacity="0.000"/></linearGradient><linearGradient id="g120" gradientUnits="userSpaceOnUse" x1="417.2" x2="540.0"><stop offset="0.000" stop-opacity="0.062"/><stop offset="1.000" stop-opacity="0.096"/></linearGradient><linearGradient id="g121" gradientUnits="userSpaceOnUse" x1="417.2" x2="540.0"><stop offset="0.000" stop-opacity="0.067"/><stop offset="1.000" stop-opacity="0.106"/></linearGradient><linearGradient id="g122" gradientUnits="userSpaceOnUse" x1="414.2" x2="441.0"><stop offset="0.000" stop-opacity="0.000"/><stop offset="0.075" stop-opacity="0.073"/><stop offset="0.925" stop-opacity="0.073"/><stop offset="1.000" stop-opacity="0.000"/></linearGradient><linearGradient id="g123" gradientUnits="userSpaceOnUse" x1="414.2" x2="441.0"><stop offset="0.000" stop-opacity="0.000"/><stop offset="0.075" stop-opacity="0.097"/><stop offset="0.925" stop-opacity="0.097"/><stop offset="1.000" stop-opacity="0.000"/></linearGradient><linearGradient id="g124" gradientUnits="userSpaceOnUse" x1="443.0" x2="461.0"><stop offset="0.000" stop-opacity="0.000"/><stop offset="0.111" stop-opacity="0.112"/><stop offset="0.889" stop-opacity="0.112"/><stop offset="1.000" stop-opacity="0.000"/></linearGradient><linearGradient id="g125" gradientUnits="userSpaceOnUse" x1="443.0" x2="461.0"><stop offset="0.000" stop-opacity="0.000"/><stop offset="0.111" stop-opacity="0.155"/><stop offset="0.889" stop-opacity="0.155"/><stop offset="1.000" stop-opacity="0.000"/></linearGradient><linearGradient id="g126" gradientUnits="userSpaceOnUse" x1="464.0" x2="479.0"><stop offset="0.000" stop-opacity="0.000"/><stop offset="0.133" stop-opacity="0.104"/><stop offset="0.867" stop-opacity="0.104"/><stop offset="1.000" stop-opacity="0.000"/></linearGradient><linearGradient id="g127" gradientUnits="userSpaceOnUse" x1="464.0" x2="479.0"><stop offset="0.000" stop-opacity="0.000"/><stop offset="0.133" stop-opacity="0.141"/><stop offset="0.867" stop-opacity="0.141"/><stop offset="1.000" stop-opacity="0.000"/></linearGradient><linearGradient id="g128" gradientUnits="userSpaceOnUse" x1="481.0" x2="495.0"><stop offset="0.000" stop-opacity="0.000"/><stop offset="0.143" stop-opacity="0.104"/><stop offset="0.857" stop-opacity="0.104"/><stop offset="1.000" stop-opacity="0.000"/></linearGradient><linearGradient id="g129" gradientUnits="userSpaceOnUse" x1="481.0" x2="495.0"><stop offset="0.000" stop-opacity="0.000"/><stop offset="0.143" stop-opacity="0.141"/><stop offset="0.857" stop-opacity="0.141"/><stop offset="1.000" stop-opacity="0.000"/></linearGradient><linearGradient id="g130" gradientUnits="userSpaceOnUse" x1="497.0" x2="511.0"><stop offset="0.000" stop-opacity="0.000"/><stop offset="0.143" stop-opacity="0.130"/><stop offset="0.857" stop-opacity="0.130"/><stop offset="1.000" stop-opacity="0.000"/></linearGradient><linearGradient id="g131" gradientUnits="userSpaceOnUse" x1="497.0" x2="511.0"><stop offset="0.000" stop-opacity="0.000"/><stop offset="0.143" stop-opacity="0.182"/><stop offset="0.857" stop-opacity="0.182"/><stop offset="1.000" stop-opacity="0.000"/></linearGradient><linearGradient id="g132" gradientUnits="userSpaceOnUse" x1="511.0" x2="528.0"><stop offset="0.000" stop-opacity="0.000"/><stop offset="0.118" stop-opacity="0.130"/><stop offset="0.882" stop-opacity="0.130"/><stop offset="1.000" stop-opacity="0.000"/></linearGradient><linearGradient id="g133" gradientUnits="userSpaceOnUse" x1="511.0" x2="528.0"><stop offset="0.000" stop-opacity="0.000"/><stop offset="0.118" stop-opacity="0.182"/><stop offset="0.882" stop-opacity="0.182"/><stop offset="1.000" stop-opacity="0.000"/></linearGradient><linearGradient id="g134" gradientUnits="userSpaceOnUse" x1="414.2" x2="426.0"><stop offset="0.000" stop-opacity="0.000"/><stop offset="0.169" stop-opacity="0.065"/><stop offset="0.831" stop-opacity="0.065"/><stop offset="1.000" stop-opacity="0.000"/></linearGradient><linearGradient id="g135" gradientUnits="userSpaceOnUse" x1="414.2" x2="426.0"><stop offset="0.000" stop-opacity="0.000"/><stop offset="0.169" stop-opacity="0.085"/><stop offset="0.831" stop-opacity="0.085"/><stop offset="1.000" stop-opacity="0.000"/></linearGradient><linearGradient id="g136" gradientUnits="userSpaceOnUse" x1="447.0" x2="459.0"><stop offset="0.000" stop-opacity="0.000"/><stop offset="0.167" stop-opacity="0.095"/><stop offset="0.833" stop-opacity="0.095"/><stop offset="1.000" stop-opacity="0.000"/></linearGradient><linearGradient id="g137" gradientUnits="userSpaceOnUse" x1="447.0" x2="459.0"><stop offset="0.000" stop-opacity="0.000"/><stop offset="0.167" stop-opacity="0.128"/><stop offset="0.833" stop-opacity="0.128"/><stop offset="1.000" stop-opacity="0.000"/></linearGradient><linearGradient id="g138" gradientUnits="userSpaceOnUse" x1="480.0" x2="496.0"><stop offset="0.000" stop-opacity="0.000"/><stop offset="0.125" stop-opacity="0.065"/><stop offset="0.875" stop-opacity="0.065"/><stop offset="1.000" stop-opacity="0.000"/></linearGradient><linearGradient id="g139" gradientUnits="userSpaceOnUse" x1="480.0" x2="496.0"><stop offset="0.000" stop-opacity="0.000"/><stop offset="0.125" stop-opacity="0.085"/><stop offset="0.875" stop-opacity="0.085"/><stop offset="1.000" stop-opacity="0.000"/></linearGradient><linearGradient id="g140" gradientUnits="userSpaceOnUse" x1="506.0" x2="530.0"><stop offset="0.000" stop-opacity="0.000"/><stop offset="0.083" stop-opacity="0.086"/><stop offset="0.917" stop-opacity="0.086"/><stop offset="1.000" stop-opacity="0.000"/></linearGradient><linearGradient id="g141" gradientUnits="userSpaceOnUse" x1="506.0" x2="530.0"><stop offset="0.000" stop-opacity="0.000"/><stop offset="0.083" stop-opacity="0.116"/><stop offset="0.917" stop-opacity="0.116"/><stop offset="1.000" stop-opacity="0.000"/></linearGradient><linearGradient id="g142" gradientUnits="userSpaceOnUse" x1="503.0" x2="560.5"><stop offset="0.000" stop-opacity="0.000"/><stop offset="0.157" stop-opacity="0.050"/><stop offset="0.296" stop-opacity="0.090"/><stop offset="0.435" stop-opacity="0.140"/><stop offset="0.591" stop-opacity="0.210"/><stop offset="0.748" stop-opacity="0.250"/><stop offset="1.000" stop-opacity="0.275"/></linearGradient><linearGradient id="g143" gradientUnits="userSpaceOnUse" x1="503.0" x2="560.5"><stop offset="0.000" stop-opacity="0.000"/><stop offset="0.157" stop-opacity="0.053"/><stop offset="0.296" stop-opacity="0.099"/><stop offset="0.435" stop-opacity="0.163"/><stop offset="0.591" stop-opacity="0.266"/><stop offset="0.748" stop-opacity="0.333"/><stop offset="1.000" stop-opacity="0.379"/></linearGradient><linearGradient id="g144" gradientUnits="userSpaceOnUse" x1="527.0" x2="560.5"><stop offset="0.000" stop-opacity="0.000"/><stop offset="0.299" stop-opacity="0.140"/><stop offset="0.567" stop-opacity="0.250"/><stop offset="1.000" stop-opacity="0.335"/></linearGradient><linearGradient id="g145" gradientUnits="userSpaceOnUse" x1="527.0" x2="560.5"><stop offset="0.000" stop-opacity="0.000"/><stop offset="0.299" stop-opacity="0.163"/><stop offset="0.567" stop-opacity="0.333"/><stop offset="1.000" stop-opacity="0.504"/></linearGradient><linearGradient id="g146" gradientUnits="userSpaceOnUse" x1="540.0" x2="560.5"><stop offset="0.000" stop-opacity="0.000"/><stop offset="0.390" stop-opacity="0.400"/><stop offset="0.732" stop-opacity="1.000"/><stop offset="1.000" stop-opacity="1.000"/></linearGradient><linearGradient id="g147" gradientUnits="userSpaceOnUse" x1="515.0" x2="560.5"><stop offset="0.000" stop-opacity="0.000"/><stop offset="0.330" stop-opacity="0.100"/><stop offset="0.659" stop-opacity="0.165"/><stop offset="1.000" stop-opacity="0.190"/></linearGradient><linearGradient id="g148" gradientUnits="userSpaceOnUse" x1="515.0" x2="560.5"><stop offset="0.000" stop-opacity="0.000"/><stop offset="0.330" stop-opacity="0.111"/><stop offset="0.659" stop-opacity="0.198"/><stop offset="1.000" stop-opacity="0.235"/></linearGradient><linearGradient id="g149" gradientUnits="userSpaceOnUse" x1="535.0" x2="560.5"><stop offset="0.000" stop-opacity="0.000"/><stop offset="0.392" stop-opacity="0.100"/><stop offset="0.706" stop-opacity="0.200"/><stop offset="1.000" stop-opacity="0.310"/></linearGradient><linearGradient id="g150" gradientUnits="userSpaceOnUse" x1="535.0" x2="560.5"><stop offset="0.000" stop-opacity="0.000"/><stop offset="0.392" stop-opacity="0.111"/><stop offset="0.706" stop-opacity="0.250"/><stop offset="1.000" stop-opacity="0.449"/></linearGradient><linearGradient id="g151" gradientUnits="userSpaceOnUse" x1="417.2" x2="470.0"><stop offset="0.000" stop-opacity="0.084"/><stop offset="0.394" stop-opacity="0.077"/><stop offset="0.716" stop-opacity="0.042"/><stop offset="1.000" stop-opacity="0.000"/></linearGradient><linearGradient id="g152" gradientUnits="userSpaceOnUse" x1="417.2" x2="470.0"><stop offset="0.000" stop-opacity="0.104"/><stop offset="0.394" stop-opacity="0.094"/><stop offset="0.716" stop-opacity="0.050"/><stop offset="1.000" stop-opacity="0.000"/></linearGradient><linearGradient id="g153" gradientUnits="userSpaceOnUse" x1="417.2" x2="470.0"><stop offset="0.000" stop-opacity="0.039"/><stop offset="0.394" stop-opacity="0.034"/><stop offset="0.716" stop-opacity="0.017"/><stop offset="1.000" stop-opacity="0.000"/></linearGradient><linearGradient id="g154" gradientUnits="userSpaceOnUse" x1="417.2" x2="450.0"><stop offset="0.000" stop-opacity="0.027"/><stop offset="1.000" stop-opacity="0.000"/></linearGradient><linearGradient id="g155" gradientUnits="userSpaceOnUse" x1="417.2" x2="450.0"><stop offset="0.000" stop-opacity="0.031"/><stop offset="1.000" stop-opacity="0.000"/></linearGradient><linearGradient id="g156" gradientUnits="userSpaceOnUse" x1="417.2" x2="450.0"><stop offset="0.000" stop-opacity="0.011"/><stop offset="1.000" stop-opacity="0.000"/></linearGradient><linearGradient id="g157" gradientUnits="userSpaceOnUse" x1="417.2" x2="492.0"><stop offset="0.000" stop-opacity="0.084"/><stop offset="0.439" stop-opacity="0.096"/><stop offset="0.773" stop-opacity="0.115"/><stop offset="1.000" stop-opacity="0.146"/></linearGradient><linearGradient id="g158" gradientUnits="userSpaceOnUse" x1="417.2" x2="492.0"><stop offset="0.000" stop-opacity="0.104"/><stop offset="0.439" stop-opacity="0.119"/><stop offset="0.773" stop-opacity="0.146"/><stop offset="1.000" stop-opacity="0.192"/></linearGradient><linearGradient id="g159" gradientUnits="userSpaceOnUse" x1="417.2" x2="492.0"><stop offset="0.000" stop-opacity="0.039"/><stop offset="0.439" stop-opacity="0.045"/><stop offset="0.773" stop-opacity="0.057"/><stop offset="1.000" stop-opacity="0.079"/></linearGradient><linearGradient id="g160" gradientUnits="userSpaceOnUse" x1="484.0" x2="560.5"><stop offset="0.000" stop-opacity="0.000"/><stop offset="0.183" stop-opacity="0.100"/><stop offset="0.471" stop-opacity="0.140"/><stop offset="1.000" stop-opacity="0.150"/></linearGradient><linearGradient id="g161" gradientUnits="userSpaceOnUse" x1="484.0" x2="560.5"><stop offset="0.000" stop-opacity="0.000"/><stop offset="0.183" stop-opacity="0.111"/><stop offset="0.471" stop-opacity="0.163"/><stop offset="1.000" stop-opacity="0.176"/></linearGradient><linearGradient id="g162" gradientUnits="userSpaceOnUse" x1="478.0" x2="560.5"><stop offset="0.000" stop-opacity="0.000"/><stop offset="0.145" stop-opacity="0.115"/><stop offset="0.267" stop-opacity="0.192"/><stop offset="0.376" stop-opacity="0.320"/><stop offset="0.485" stop-opacity="0.368"/><stop offset="0.630" stop-opacity="0.360"/><stop offset="0.727" stop-opacity="0.234"/><stop offset="0.836" stop-opacity="0.161"/><stop offset="1.000" stop-opacity="0.146"/></linearGradient><linearGradient id="g163" gradientUnits="userSpaceOnUse" x1="478.0" x2="560.5"><stop offset="0.000" stop-opacity="0.000"/><stop offset="0.145" stop-opacity="0.146"/><stop offset="0.267" stop-opacity="0.267"/><stop offset="0.376" stop-opacity="0.529"/><stop offset="0.485" stop-opacity="0.655"/><stop offset="0.630" stop-opacity="0.633"/><stop offset="0.727" stop-opacity="0.344"/><stop offset="0.836" stop-opacity="0.216"/><stop offset="1.000" stop-opacity="0.192"/></linearGradient><linearGradient id="g164" gradientUnits="userSpaceOnUse" x1="478.0" x2="560.5"><stop offset="0.000" stop-opacity="0.000"/><stop offset="0.145" stop-opacity="0.057"/><stop offset="0.267" stop-opacity="0.122"/><stop offset="0.376" stop-opacity="0.375"/><stop offset="0.485" stop-opacity="0.633"/><stop offset="0.630" stop-opacity="0.574"/><stop offset="0.727" stop-opacity="0.175"/><stop offset="0.836" stop-opacity="0.092"/><stop offset="1.000" stop-opacity="0.079"/></linearGradient><linearGradient id="g165" gradientUnits="userSpaceOnUse" x1="417.2" x2="560.5"><stop offset="0.000" stop-opacity="0.058"/><stop offset="0.159" stop-opacity="0.096"/><stop offset="0.264" stop-opacity="0.138"/><stop offset="0.341" stop-opacity="0.173"/><stop offset="0.396" stop-opacity="0.243"/><stop offset="0.452" stop-opacity="0.320"/><stop offset="0.508" stop-opacity="0.388"/><stop offset="0.620" stop-opacity="0.388"/><stop offset="0.676" stop-opacity="0.312"/><stop offset="0.717" stop-opacity="0.234"/><stop offset="0.766" stop-opacity="0.161"/><stop offset="0.829" stop-opacity="0.084"/><stop offset="0.913" stop-opacity="0.038"/><stop offset="1.000" stop-opacity="0.023"/></linearGradient><linearGradient id="g166" gradientUnits="userSpaceOnUse" x1="417.2" x2="560.5"><stop offset="0.000" stop-opacity="0.069"/><stop offset="0.159" stop-opacity="0.119"/><stop offset="0.264" stop-opacity="0.180"/><stop offset="0.341" stop-opacity="0.235"/><stop offset="0.396" stop-opacity="0.361"/><stop offset="0.452" stop-opacity="0.529"/><stop offset="0.508" stop-opacity="0.713"/><stop offset="0.620" stop-opacity="0.713"/><stop offset="0.676" stop-opacity="0.510"/><stop offset="0.717" stop-opacity="0.344"/><stop offset="0.766" stop-opacity="0.216"/><stop offset="0.829" stop-opacity="0.104"/><stop offset="0.913" stop-opacity="0.045"/><stop offset="1.000" stop-opacity="0.027"/></linearGradient><linearGradient id="g167" gradientUnits="userSpaceOnUse" x1="417.2" x2="560.5"><stop offset="0.000" stop-opacity="0.025"/><stop offset="0.159" stop-opacity="0.045"/><stop offset="0.264" stop-opacity="0.073"/><stop offset="0.341" stop-opacity="0.102"/><stop offset="0.396" stop-opacity="0.188"/><stop offset="0.452" stop-opacity="0.375"/><stop offset="0.508" stop-opacity="0.829"/><stop offset="0.620" stop-opacity="0.829"/><stop offset="0.676" stop-opacity="0.347"/><stop offset="0.717" stop-opacity="0.175"/><stop offset="0.766" stop-opacity="0.092"/><stop offset="0.829" stop-opacity="0.039"/><stop offset="0.913" stop-opacity="0.016"/><stop offset="1.000" stop-opacity="0.009"/></linearGradient><linearGradient id="g168" gradientUnits="userSpaceOnUse" x1="417.2" x2="482.0"><stop offset="0.000" stop-opacity="0.138"/><stop offset="0.506" stop-opacity="0.161"/><stop offset="0.815" stop-opacity="0.138"/><stop offset="1.000" stop-opacity="0.000"/></linearGradient><linearGradient id="g169" gradientUnits="userSpaceOnUse" x1="417.2" x2="482.0"><stop offset="0.000" stop-opacity="0.180"/><stop offset="0.506" stop-opacity="0.216"/><stop offset="0.815" stop-opacity="0.180"/><stop offset="1.000" stop-opacity="0.000"/></linearGradient><linearGradient id="g170" gradientUnits="userSpaceOnUse" x1="417.2" x2="482.0"><stop offset="0.000" stop-opacity="0.073"/><stop offset="0.506" stop-opacity="0.092"/><stop offset="0.815" stop-opacity="0.073"/><stop offset="1.000" stop-opacity="0.000"/></linearGradient><linearGradient id="g171" gradientUnits="userSpaceOnUse" x1="417.2" x2="470.0"><stop offset="0.000" stop-opacity="0.161"/><stop offset="0.242" stop-opacity="0.146"/><stop offset="0.432" stop-opacity="0.058"/><stop offset="1.000" stop-opacity="0.031"/></linearGradient><linearGradient id="g172" gradientUnits="userSpaceOnUse" x1="417.2" x2="470.0"><stop offset="0.000" stop-opacity="0.216"/><stop offset="0.242" stop-opacity="0.192"/><stop offset="0.432" stop-opacity="0.069"/><stop offset="1.000" stop-opacity="0.036"/></linearGradient><linearGradient id="g173" gradientUnits="userSpaceOnUse" x1="417.2" x2="470.0"><stop offset="0.000" stop-opacity="0.092"/><stop offset="0.242" stop-opacity="0.079"/><stop offset="0.432" stop-opacity="0.025"/><stop offset="1.000" stop-opacity="0.012"/></linearGradient><linearGradient id="g174" gradientUnits="userSpaceOnUse" x1="417.2" x2="428.0"><stop offset="0.000" stop-opacity="0.058"/><stop offset="1.000" stop-opacity="0.000"/></linearGradient><linearGradient id="g175" gradientUnits="userSpaceOnUse" x1="417.2" x2="428.0"><stop offset="0.000" stop-opacity="0.069"/><stop offset="1.000" stop-opacity="0.000"/></linearGradient><linearGradient id="g176" gradientUnits="userSpaceOnUse" x1="417.2" x2="428.0"><stop offset="0.000" stop-opacity="0.025"/><stop offset="1.000" stop-opacity="0.000"/></linearGradient><linearGradient id="g177" gradientUnits="userSpaceOnUse" x1="417.2" x2="560.5"><stop offset="0.000" stop-opacity="0.173"/><stop offset="0.089" stop-opacity="0.192"/><stop offset="0.194" stop-opacity="0.226"/><stop offset="0.285" stop-opacity="0.287"/><stop offset="0.355" stop-opacity="0.344"/><stop offset="0.508" stop-opacity="0.344"/><stop offset="0.564" stop-opacity="0.234"/><stop offset="0.634" stop-opacity="0.138"/><stop offset="0.703" stop-opacity="0.058"/><stop offset="0.773" stop-opacity="0.015"/><stop offset="1.000" stop-opacity="0.008"/></linearGradient><linearGradient id="g178" gradientUnits="userSpaceOnUse" x1="417.2" x2="560.5"><stop offset="0.000" stop-opacity="0.235"/><stop offset="0.089" stop-opacity="0.267"/><stop offset="0.194" stop-opacity="0.328"/><stop offset="0.285" stop-opacity="0.452"/><stop offset="0.355" stop-opacity="0.590"/><stop offset="0.508" stop-opacity="0.590"/><stop offset="0.564" stop-opacity="0.344"/><stop offset="0.634" stop-opacity="0.180"/><stop offset="0.703" stop-opacity="0.069"/><stop offset="0.773" stop-opacity="0.018"/><stop offset="1.000" stop-opacity="0.009"/></linearGradient><linearGradient id="g179" gradientUnits="userSpaceOnUse" x1="417.2" x2="560.5"><stop offset="0.000" stop-opacity="0.102"/><stop offset="0.089" stop-opacity="0.122"/><stop offset="0.194" stop-opacity="0.163"/><stop offset="0.285" stop-opacity="0.275"/><stop offset="0.355" stop-opacity="0.480"/><stop offset="0.508" stop-opacity="0.480"/><stop offset="0.564" stop-opacity="0.175"/><stop offset="0.634" stop-opacity="0.073"/><stop offset="0.703" stop-opacity="0.025"/><stop offset="0.773" stop-opacity="0.006"/><stop offset="1.000" stop-opacity="0.003"/></linearGradient><linearGradient id="g180" gradientUnits="userSpaceOnUse" x1="417.2" x2="482.0"><stop offset="0.000" stop-opacity="0.161"/><stop offset="0.228" stop-opacity="0.146"/><stop offset="0.429" stop-opacity="0.077"/><stop offset="1.000" stop-opacity="0.031"/></linearGradient><linearGradient id="g181" gradientUnits="userSpaceOnUse" x1="417.2" x2="482.0"><stop offset="0.000" stop-opacity="0.216"/><stop offset="0.228" stop-opacity="0.192"/><stop offset="0.429" stop-opacity="0.094"/><stop offset="1.000" stop-opacity="0.036"/></linearGradient><linearGradient id="g182" gradientUnits="userSpaceOnUse" x1="417.2" x2="482.0"><stop offset="0.000" stop-opacity="0.092"/><stop offset="0.228" stop-opacity="0.079"/><stop offset="0.429" stop-opacity="0.034"/><stop offset="1.000" stop-opacity="0.012"/></linearGradient><linearGradient id="g183" gradientUnits="userSpaceOnUse" x1="417.2" x2="440.0"><stop offset="0.000" stop-opacity="0.038"/><stop offset="1.000" stop-opacity="0.000"/></linearGradient><linearGradient id="g184" gradientUnits="userSpaceOnUse" x1="417.2" x2="440.0"><stop offset="0.000" stop-opacity="0.045"/><stop offset="1.000" stop-opacity="0.000"/></linearGradient><linearGradient id="g185" gradientUnits="userSpaceOnUse" x1="417.2" x2="440.0"><stop offset="0.000" stop-opacity="0.016"/><stop offset="1.000" stop-opacity="0.000"/></linearGradient><linearGradient id="g186" gradientUnits="userSpaceOnUse" x1="417.2" x2="514.0"><stop offset="0.000" stop-opacity="0.344"/><stop offset="0.039" stop-opacity="0.300"/><stop offset="0.184" stop-opacity="0.269"/><stop offset="0.390" stop-opacity="0.243"/><stop offset="0.566" stop-opacity="0.226"/><stop offset="0.680" stop-opacity="0.173"/><stop offset="0.793" stop-opacity="0.127"/><stop offset="0.907" stop-opacity="0.054"/><stop offset="1.000" stop-opacity="0.000"/></linearGradient><linearGradient id="g187" gradientUnits="userSpaceOnUse" x1="417.2" x2="514.0"><stop offset="0.000" stop-opacity="0.590"/><stop offset="0.039" stop-opacity="0.482"/><stop offset="0.184" stop-opacity="0.414"/><stop offset="0.390" stop-opacity="0.361"/><stop offset="0.566" stop-opacity="0.328"/><stop offset="0.680" stop-opacity="0.235"/><stop offset="0.793" stop-opacity="0.163"/><stop offset="0.907" stop-opacity="0.064"/><stop offset="1.000" stop-opacity="0.000"/></linearGradient><linearGradient id="g188" gradientUnits="userSpaceOnUse" x1="417.2" x2="514.0"><stop offset="0.000" stop-opacity="0.480"/><stop offset="0.039" stop-opacity="0.310"/><stop offset="0.184" stop-opacity="0.235"/><stop offset="0.390" stop-opacity="0.188"/><stop offset="0.566" stop-opacity="0.163"/><stop offset="0.680" stop-opacity="0.102"/><stop offset="0.793" stop-opacity="0.065"/><stop offset="0.907" stop-opacity="0.023"/><stop offset="1.000" stop-opacity="0.000"/></linearGradient><linearGradient id="g189" gradientUnits="userSpaceOnUse" x1="417.2" x2="462.0"><stop offset="0.000" stop-opacity="0.146"/><stop offset="0.464" stop-opacity="0.115"/><stop offset="0.688" stop-opacity="0.046"/><stop offset="1.000" stop-opacity="0.000"/></linearGradient><linearGradient id="g190" gradientUnits="userSpaceOnUse" x1="417.2" x2="462.0"><stop offset="0.000" stop-opacity="0.192"/><stop offset="0.464" stop-opacity="0.146"/><stop offset="0.688" stop-opacity="0.054"/><stop offset="1.000" stop-opacity="0.000"/></linearGradient><linearGradient id="g191" gradientUnits="userSpaceOnUse" x1="417.2" x2="462.0"><stop offset="0.000" stop-opacity="0.079"/><stop offset="0.464" stop-opacity="0.057"/><stop offset="0.688" stop-opacity="0.019"/><stop offset="1.000" stop-opacity="0.000"/></linearGradient><linearGradient id="g192" gradientUnits="userSpaceOnUse" x1="417.2" x2="486.0"><stop offset="0.000" stop-opacity="0.234"/><stop offset="0.113" stop-opacity="0.200"/><stop offset="0.331" stop-opacity="0.177"/><stop offset="0.549" stop-opacity="0.161"/><stop offset="0.724" stop-opacity="0.115"/><stop offset="0.884" stop-opacity="0.046"/><stop offset="1.000" stop-opacity="0.000"/></linearGradient><linearGradient id="g193" gradientUnits="userSpaceOnUse" x1="417.2" x2="486.0"><stop offset="0.000" stop-opacity="0.344"/><stop offset="0.113" stop-opacity="0.282"/><stop offset="0.331" stop-opacity="0.241"/><stop offset="0.549" stop-opacity="0.216"/><stop offset="0.724" stop-opacity="0.146"/><stop offset="0.884" stop-opacity="0.054"/><stop offset="1.000" stop-opacity="0.000"/></linearGradient><linearGradient id="g194" gradientUnits="userSpaceOnUse" x1="417.2" x2="486.0"><stop offset="0.000" stop-opacity="0.175"/><stop offset="0.113" stop-opacity="0.131"/><stop offset="0.331" stop-opacity="0.106"/><stop offset="0.549" stop-opacity="0.092"/><stop offset="0.724" stop-opacity="0.057"/><stop offset="0.884" stop-opacity="0.019"/><stop offset="1.000" stop-opacity="0.000"/></linearGradient><linearGradient id="g195" gradientUnits="userSpaceOnUse" x1="417.2" x2="450.0"><stop offset="0.000" stop-opacity="0.058"/><stop offset="1.000" stop-opacity="0.000"/></linearGradient><linearGradient id="g196" gradientUnits="userSpaceOnUse" x1="417.2" x2="450.0"><stop offset="0.000" stop-opacity="0.069"/><stop offset="1.000" stop-opacity="0.000"/></linearGradient><linearGradient id="g197" gradientUnits="userSpaceOnUse" x1="417.2" x2="450.0"><stop offset="0.000" stop-opacity="0.025"/><stop offset="1.000" stop-opacity="0.000"/></linearGradient></g>
</defs>
<rect width="599" height="270" fill="#fff"/>
<g clip-path="url(#clipA)"><rect x="33.3" y="23.8" width="145.6" height="211.9" fill="#0f0a08"/><g filter="url(#hot)"><rect x="23.3" y="13.8" width="165.6" height="231.9" fill="#000"/><g filter="url(#bl)"><path d="M27.3 30.4 C41.1 30.5 83.7 30.7 110.0 31.0 C136.3 31.4 172.4 32.3 184.9 32.5 L184.9 40.9 C172.4 40.7 136.3 39.7 110.0 39.4 C83.7 39.0 41.1 38.8 27.3 38.7Z" fill="url(#g1)"/><path d="M27.3 31.9 C41.1 32.0 83.7 32.1 110.0 32.5 C136.3 32.9 172.4 33.8 184.9 34.0 L184.9 39.4 C172.4 39.2 136.3 38.3 110.0 37.9 C83.7 37.5 41.1 37.4 27.3 37.3Z" fill="url(#g2)"/><path d="M27.3 33.1 C41.1 33.2 83.7 33.4 110.0 33.7 C136.3 34.1 172.4 35.0 184.9 35.2 L184.9 38.2 C172.4 38.0 136.3 37.0 110.0 36.7 C83.7 36.3 41.1 36.1 27.3 36.0Z" fill="url(#g3)"/><path d="M27.3 64.3 L100.0 64.6 L100.0 67.0 L27.3 66.6Z" fill="url(#g4)"/><path d="M27.3 64.7 L100.0 65.0 L100.0 66.5 L27.3 66.2Z" fill="url(#g5)"/><path d="M27.3 65.1 L100.0 65.4 L100.0 66.2 L27.3 65.9Z" fill="url(#g6)"/><path d="M27.3 68.8 L110.0 69.3 L110.0 71.7 L27.3 71.1Z" fill="url(#g7)"/><path d="M27.3 69.2 L110.0 69.8 L110.0 71.2 L27.3 70.7Z" fill="url(#g8)"/><path d="M27.3 69.5 L110.0 70.1 L110.0 70.9 L27.3 70.4Z" fill="url(#g9)"/><path d="M55.0 70.0 C61.2 69.9 81.2 69.9 92.0 69.6 C102.8 69.3 110.3 68.7 120.0 68.2 C129.7 67.7 139.2 66.9 150.0 66.5 C160.8 66.1 179.1 66.0 184.9 66.0 L184.9 73.6 C179.1 73.5 160.8 73.6 150.0 73.5 C139.2 73.4 129.7 73.4 120.0 73.2 C110.3 73.0 102.8 72.7 92.0 72.4 C81.2 72.1 61.2 71.7 55.0 71.6Z" fill="url(#g10)"/><path d="M100.0 71.0 C104.2 70.8 116.7 70.2 125.0 69.9 C133.3 69.6 140.0 69.4 150.0 69.2 C160.0 69.0 179.1 69.0 184.9 69.0 L184.9 73.4 C179.1 73.4 160.0 73.4 150.0 73.4 C140.0 73.4 133.3 73.2 125.0 73.1 C116.7 73.0 104.2 72.7 100.0 72.6Z" fill="url(#g11)"/><path d="M118.0 71.0 C123.3 70.9 138.8 70.5 150.0 70.3 C161.2 70.1 179.1 70.1 184.9 70.1 L184.9 72.9 C179.1 72.9 161.2 73.0 150.0 72.9 C138.8 72.8 123.3 72.5 118.0 72.4Z" fill="url(#g12)"/><path d="M140.0 71.3 L184.9 71.0 L184.9 72.2 L140.0 72.1Z" fill="url(#g13)"/><path d="M88.0 73.4 L184.9 73.4 L184.9 74.4 L88.0 74.4Z" fill="url(#g14)"/><path d="M27.3 72.8 C36.8 72.9 72.5 72.8 84.0 73.0 C95.5 73.1 89.2 73.9 96.0 74.0 C102.8 74.1 110.2 73.8 125.0 73.8 C139.8 73.8 174.9 73.9 184.9 74.0 L184.9 77.7 C174.9 77.6 139.8 77.4 125.0 77.2 C110.2 77.0 102.8 76.8 96.0 76.4 C89.2 76.0 95.5 75.3 84.0 75.0 C72.5 74.8 36.8 75.0 27.3 74.9Z" fill="url(#g15)"/><path d="M27.3 73.2 C36.8 73.2 72.5 73.1 84.0 73.3 C95.5 73.5 89.2 74.2 96.0 74.4 C102.8 74.6 110.2 74.3 125.0 74.3 C139.8 74.4 174.9 74.5 184.9 74.6 L184.9 77.1 C174.9 77.0 139.8 76.8 125.0 76.7 C110.2 76.5 102.8 76.3 96.0 76.0 C89.2 75.7 95.5 74.9 84.0 74.7 C72.5 74.5 36.8 74.6 27.3 74.6Z" fill="url(#g16)"/><path d="M27.3 99.0 C40.2 99.1 86.2 99.2 105.0 99.6 C123.8 99.9 129.5 100.2 140.0 101.1 C150.5 102.0 163.3 104.2 168.0 104.9 L168.0 109.5 C163.3 109.4 150.5 108.9 140.0 108.5 C129.5 108.1 123.8 107.4 105.0 107.0 C86.2 106.7 40.2 106.6 27.3 106.5Z" fill="url(#g17)"/><path d="M27.3 100.4 C40.2 100.4 86.2 100.6 105.0 100.9 C123.8 101.2 129.5 101.6 140.0 102.4 C150.5 103.2 163.3 105.2 168.0 105.7 L168.0 108.7 C163.3 108.5 150.5 107.7 140.0 107.2 C129.5 106.7 123.8 106.0 105.0 105.7 C86.2 105.4 40.2 105.2 27.3 105.2Z" fill="url(#g18)"/><path d="M27.3 101.4 C40.2 101.5 86.2 101.6 105.0 102.0 C123.8 102.3 129.5 102.7 140.0 103.5 C150.5 104.2 163.3 105.9 168.0 106.4 L168.0 108.0 C163.3 107.7 150.5 106.7 140.0 106.1 C129.5 105.6 123.8 105.0 105.0 104.6 C86.2 104.3 40.2 104.2 27.3 104.1Z" fill="url(#g19)"/><path d="M27.3 132.6 C40.2 132.9 84.2 133.6 105.0 134.4 C125.8 135.3 144.2 137.2 152.0 137.7 L152.0 142.7 C144.2 142.5 125.8 141.9 105.0 141.4 C84.2 140.9 40.2 139.9 27.3 139.5Z" fill="url(#g20)"/><path d="M27.3 133.8 C40.2 134.1 84.2 134.9 105.0 135.7 C125.8 136.4 144.2 138.1 152.0 138.6 L152.0 141.8 C144.2 141.5 125.8 140.7 105.0 140.2 C84.2 139.6 40.2 138.6 27.3 138.3Z" fill="url(#g21)"/><path d="M27.3 134.8 C40.2 135.1 84.2 135.9 105.0 136.7 C125.8 137.4 144.2 138.9 152.0 139.3 L152.0 141.1 C144.2 140.8 125.8 139.8 105.0 139.1 C84.2 138.5 40.2 137.6 27.3 137.3Z" fill="url(#g22)"/><path d="M27.3 166.7 L120.0 170.1 L120.0 174.7 L27.3 172.9Z" fill="url(#g23)"/><path d="M27.3 167.8 L120.0 170.9 L120.0 173.9 L27.3 171.8Z" fill="url(#g24)"/><path d="M27.3 168.7 L120.0 171.6 L120.0 173.2 L27.3 170.9Z" fill="url(#g25)"/><path d="M27.3 199.4 L88.0 200.4 L88.0 206.0 L27.3 205.0Z" fill="url(#g26)"/><path d="M27.3 200.4 L88.0 201.4 L88.0 205.0 L27.3 204.0Z" fill="url(#g27)"/><path d="M27.3 201.2 L88.0 202.2 L88.0 204.2 L27.3 203.2Z" fill="url(#g28)"/></g></g></g><g clip-path="url(#clipB)"><rect x="225.4" y="23.8" width="145.5" height="211.9" fill="#0f0a08"/><g filter="url(#hot)"><rect x="215.4" y="13.8" width="165.5" height="231.9" fill="#000"/><g filter="url(#bl)"><path d="M219.4 24.9 C232.8 24.8 273.8 24.3 300.0 24.6 C326.2 25.0 364.1 26.7 376.9 27.1 L376.9 30.2 C364.1 29.8 326.2 28.1 300.0 27.8 C273.8 27.4 232.8 27.9 219.4 28.0Z" fill="url(#g29)"/><path d="M219.4 25.4 C232.8 25.4 273.8 24.8 300.0 25.2 C326.2 25.6 364.1 27.3 376.9 27.7 L376.9 29.7 C364.1 29.3 326.2 27.6 300.0 27.2 C273.8 26.8 232.8 27.4 219.4 27.4Z" fill="url(#g30)"/><path d="M219.4 25.9 C232.8 25.8 273.8 25.3 300.0 25.6 C326.2 26.0 364.1 27.7 376.9 28.1 L376.9 29.2 C364.1 28.8 326.2 27.1 300.0 26.8 C273.8 26.4 232.8 26.9 219.4 27.0Z" fill="url(#g31)"/><path d="M219.4 28.0 C228.7 27.8 260.7 27.3 275.0 27.0 C289.3 26.6 294.2 26.1 305.0 25.9 C315.8 25.7 328.0 25.7 340.0 25.8 C352.0 25.9 370.8 26.3 376.9 26.4 L376.9 37.9 C370.8 37.7 352.0 37.2 340.0 36.6 C328.0 36.1 315.8 35.2 305.0 34.5 C294.2 33.9 289.3 33.1 275.0 32.8 C260.7 32.6 228.7 33.1 219.4 33.1Z" fill="url(#g32)"/><path d="M219.4 28.9 C228.7 28.8 260.7 28.3 275.0 28.0 C289.3 27.7 294.2 27.4 305.0 27.4 C315.8 27.3 328.0 27.5 340.0 27.7 C352.0 27.9 370.8 28.3 376.9 28.5 L376.9 35.9 C370.8 35.7 352.0 35.2 340.0 34.7 C328.0 34.2 315.8 33.5 305.0 33.0 C294.2 32.5 289.3 31.9 275.0 31.8 C260.7 31.7 228.7 32.2 219.4 32.2Z" fill="url(#g33)"/><path d="M219.4 29.7 C228.7 29.5 260.7 29.0 275.0 28.9 C289.3 28.7 294.2 28.6 305.0 28.7 C315.8 28.7 328.0 29.0 340.0 29.3 C352.0 29.5 370.8 30.0 376.9 30.1 L376.9 34.2 C370.8 34.0 352.0 33.5 340.0 33.1 C328.0 32.7 315.8 32.1 305.0 31.7 C294.2 31.4 289.3 31.0 275.0 30.9 C260.7 30.9 228.7 31.4 219.4 31.5Z" fill="url(#g34)"/><path d="M219.4 34.0 C232.8 34.3 273.8 35.2 300.0 36.1 C326.2 37.1 364.1 39.1 376.9 39.7 L376.9 45.0 C364.1 44.1 326.2 41.1 300.0 39.9 C273.8 38.6 232.8 38.1 219.4 37.7Z" fill="url(#g35)"/><path d="M219.4 34.6 C232.8 35.0 273.8 35.8 300.0 36.8 C326.2 37.8 364.1 40.0 376.9 40.6 L376.9 44.0 C364.1 43.2 326.2 40.4 300.0 39.2 C273.8 38.0 232.8 37.4 219.4 37.0Z" fill="url(#g36)"/><path d="M219.4 35.2 C232.8 35.5 273.8 36.3 300.0 37.3 C326.2 38.4 364.1 40.7 376.9 41.4 L376.9 43.3 C364.1 42.5 326.2 39.8 300.0 38.7 C273.8 37.5 232.8 36.9 219.4 36.5Z" fill="url(#g37)"/><path d="M219.4 38.7 L285.0 40.3 L285.0 42.7 L219.4 41.0Z" fill="url(#g38)"/><path d="M219.4 39.1 L285.0 40.8 L285.0 42.2 L219.4 40.6Z" fill="url(#g39)"/><path d="M219.4 39.4 L285.0 41.1 L285.0 41.9 L219.4 40.3Z" fill="url(#g40)"/><path d="M219.4 57.9 C231.2 58.2 274.1 59.2 290.0 59.7 C305.9 60.2 310.8 60.6 315.0 60.8 L315.0 66.0 C310.8 66.0 305.9 66.0 290.0 65.9 C274.1 65.8 231.2 65.4 219.4 65.3Z" fill="url(#g41)"/><path d="M219.4 59.2 C231.2 59.5 274.1 60.4 290.0 60.8 C305.9 61.2 310.8 61.5 315.0 61.7 L315.0 65.1 C310.8 65.0 305.9 65.0 290.0 64.8 C274.1 64.6 231.2 64.1 219.4 64.0Z" fill="url(#g42)"/><path d="M219.4 60.3 C231.2 60.5 274.1 61.3 290.0 61.7 C305.9 62.1 310.8 62.3 315.0 62.5 L315.0 64.3 C310.8 64.3 305.9 64.1 290.0 63.9 C274.1 63.7 231.2 63.1 219.4 62.9Z" fill="url(#g43)"/><path d="M219.4 68.8 L295.0 69.3 L295.0 71.7 L219.4 71.1Z" fill="url(#g44)"/><path d="M219.4 69.2 L295.0 69.8 L295.0 71.2 L219.4 70.7Z" fill="url(#g45)"/><path d="M219.4 69.5 L295.0 70.1 L295.0 70.9 L219.4 70.4Z" fill="url(#g46)"/><path d="M219.4 72.8 C232.8 72.9 279.9 72.9 300.0 73.0 C320.1 73.0 333.3 73.0 340.0 73.0 L340.0 75.1 C333.3 75.1 320.1 75.1 300.0 75.0 C279.9 75.0 232.8 75.0 219.4 74.9Z" fill="url(#g47)"/><path d="M219.4 73.2 C232.8 73.2 279.9 73.3 300.0 73.3 C320.1 73.3 333.3 73.4 340.0 73.4 L340.0 74.8 C333.3 74.8 320.1 74.7 300.0 74.7 C279.9 74.7 232.8 74.6 219.4 74.6Z" fill="url(#g48)"/><path d="M266.0 74.6 C275.0 74.6 306.8 74.5 320.0 74.3 C333.2 74.2 335.5 73.9 345.0 73.7 C354.5 73.6 371.6 73.5 376.9 73.5 L376.9 78.3 C371.6 78.3 354.5 78.2 345.0 78.1 C335.5 77.9 333.2 77.5 320.0 77.3 C306.8 77.1 275.0 76.9 266.0 76.8Z" fill="url(#g49)"/><path d="M266.0 74.9 C275.0 74.9 306.8 74.8 320.0 74.7 C333.2 74.6 335.5 74.4 345.0 74.3 C354.5 74.2 371.6 74.1 376.9 74.1 L376.9 77.7 C371.6 77.7 354.5 77.6 345.0 77.5 C335.5 77.4 333.2 77.1 320.0 76.9 C306.8 76.7 275.0 76.6 266.0 76.5Z" fill="url(#g50)"/><path d="M330.0 75.3 C333.3 75.3 342.2 75.1 350.0 75.0 C357.8 74.9 372.4 74.9 376.9 74.9 L376.9 76.9 C372.4 76.9 357.8 76.9 350.0 76.8 C342.2 76.7 333.3 76.5 330.0 76.5Z" fill="url(#g51)"/><path d="M316.0 66.7 C320.0 66.2 329.9 64.1 340.0 63.3 C350.1 62.6 370.8 62.6 376.9 62.5 L376.9 73.2 C370.8 73.2 350.1 73.3 340.0 72.8 C329.9 72.4 320.0 70.9 316.0 70.5Z" fill="url(#g52)"/><path d="M316.0 67.1 C320.0 66.6 329.9 64.9 340.0 64.3 C350.1 63.7 370.8 63.7 376.9 63.6 L376.9 72.2 C370.8 72.1 350.1 72.2 340.0 71.9 C329.9 71.6 320.0 70.4 316.0 70.1Z" fill="url(#g53)"/><path d="M330.0 68.6 C333.3 68.5 342.2 67.9 350.0 67.7 C357.8 67.5 372.4 67.4 376.9 67.3 L376.9 72.0 C372.4 72.0 357.8 72.0 350.0 71.9 C342.2 71.7 333.3 71.3 330.0 71.2Z" fill="url(#g54)"/><path d="M330.0 68.9 C333.3 68.8 342.2 68.4 350.0 68.2 C357.8 68.0 372.4 67.9 376.9 67.9 L376.9 71.5 C372.4 71.5 357.8 71.5 350.0 71.4 C342.2 71.3 333.3 71.0 330.0 70.9Z" fill="url(#g55)"/><path d="M219.4 96.6 L290.0 97.3 L290.0 99.7 L219.4 98.9Z" fill="url(#g56)"/><path d="M219.4 97.0 L290.0 97.8 L290.0 99.2 L219.4 98.5Z" fill="url(#g57)"/><path d="M219.4 97.3 L290.0 98.1 L290.0 98.9 L219.4 98.1Z" fill="url(#g58)"/><path d="M219.4 102.3 C232.8 102.4 283.6 102.9 300.0 103.2 C316.4 103.4 315.0 103.6 318.0 103.7 L318.0 106.8 C315.0 106.7 316.4 106.5 300.0 106.2 C283.6 106.0 232.8 105.5 219.4 105.4Z" fill="url(#g59)"/><path d="M219.4 102.8 C232.8 103.0 283.6 103.5 300.0 103.7 C316.4 103.9 315.0 104.1 318.0 104.2 L318.0 106.2 C315.0 106.1 316.4 105.9 300.0 105.7 C283.6 105.5 232.8 105.0 219.4 104.8Z" fill="url(#g60)"/><path d="M219.4 103.3 C232.8 103.4 283.6 103.9 300.0 104.2 C316.4 104.4 315.0 104.6 318.0 104.7 L318.0 105.8 C315.0 105.7 316.4 105.5 300.0 105.2 C283.6 105.0 232.8 104.5 219.4 104.4Z" fill="url(#g61)"/><path d="M258.0 98.4 C262.0 98.3 274.7 98.0 282.0 98.0 C289.3 97.9 295.3 97.7 302.0 97.8 C308.7 97.9 314.8 97.8 322.0 98.4 C329.2 99.0 337.5 100.0 345.0 101.2 C352.5 102.4 363.3 104.8 367.0 105.5 L367.0 109.3 C363.3 109.2 352.5 109.2 345.0 109.0 C337.5 108.8 329.2 108.5 322.0 108.0 C314.8 107.5 308.7 106.9 302.0 106.2 C295.3 105.5 289.3 104.7 282.0 103.8 C274.7 103.0 262.0 101.3 258.0 100.8Z" fill="url(#g62)"/><path d="M258.0 98.8 C262.0 98.8 274.7 98.9 282.0 99.0 C289.3 99.1 295.3 99.1 302.0 99.3 C308.7 99.5 314.8 99.6 322.0 100.1 C329.2 100.7 337.5 101.6 345.0 102.6 C352.5 103.6 363.3 105.6 367.0 106.2 L367.0 108.6 C363.3 108.4 352.5 108.0 345.0 107.6 C337.5 107.2 329.2 106.8 322.0 106.3 C314.8 105.8 308.7 105.3 302.0 104.7 C295.3 104.1 289.3 103.5 282.0 102.8 C274.7 102.1 262.0 100.8 258.0 100.4Z" fill="url(#g63)"/><path d="M258.0 99.2 C262.0 99.3 274.7 99.6 282.0 99.9 C289.3 100.1 295.3 100.2 302.0 100.5 C308.7 100.8 314.8 101.0 322.0 101.5 C329.2 102.0 337.5 102.9 345.0 103.7 C352.5 104.6 363.3 106.2 367.0 106.7 L367.0 108.1 C363.3 107.8 352.5 107.0 345.0 106.5 C337.5 105.9 329.2 105.4 322.0 104.9 C314.8 104.4 308.7 104.0 302.0 103.5 C295.3 103.0 289.3 102.5 282.0 101.9 C274.7 101.4 262.0 100.4 258.0 100.0Z" fill="url(#g64)"/><path d="M219.4 127.0 C227.8 127.1 256.6 127.3 270.0 127.9 C283.4 128.4 289.2 129.0 300.0 130.3 C310.8 131.6 322.2 133.9 335.0 135.7 C347.8 137.6 369.9 140.4 376.9 141.3 L376.9 146.0 C369.9 145.4 347.8 143.4 335.0 142.3 C322.2 141.1 310.8 140.2 300.0 139.3 C289.2 138.3 283.4 137.3 270.0 136.5 C256.6 135.8 227.8 135.0 219.4 134.7Z" fill="url(#g65)"/><path d="M219.4 128.3 C227.8 128.5 256.6 128.8 270.0 129.4 C283.4 130.0 289.2 130.7 300.0 131.9 C310.8 133.2 322.2 135.2 335.0 136.9 C347.8 138.6 369.9 141.3 376.9 142.2 L376.9 145.2 C369.9 144.5 347.8 142.3 335.0 141.1 C322.2 139.9 310.8 138.7 300.0 137.7 C289.2 136.7 283.4 135.7 270.0 135.0 C256.6 134.3 227.8 133.6 219.4 133.3Z" fill="url(#g66)"/><path d="M219.4 129.5 C227.8 129.7 256.6 130.0 270.0 130.7 C283.4 131.3 289.2 132.0 300.0 133.2 C310.8 134.4 322.2 136.2 335.0 137.8 C347.8 139.5 369.9 142.0 376.9 142.8 L376.9 144.5 C369.9 143.8 347.8 141.5 335.0 140.2 C322.2 138.8 310.8 137.5 300.0 136.4 C289.2 135.3 283.4 134.4 270.0 133.7 C256.6 133.0 227.8 132.5 219.4 132.2Z" fill="url(#g67)"/><path d="M219.4 136.1 L295.0 139.4 L295.0 141.8 L219.4 138.6Z" fill="url(#g68)"/><path d="M219.4 136.5 L295.0 139.8 L295.0 141.4 L219.4 138.1Z" fill="url(#g69)"/><path d="M219.4 136.9 L295.0 140.2 L295.0 141.0 L219.4 137.8Z" fill="url(#g70)"/><path d="M219.4 158.9 C227.0 159.1 254.1 159.5 265.0 160.0 C275.9 160.6 278.3 161.0 285.0 162.0 C291.7 162.9 297.5 164.2 305.0 165.7 C312.5 167.3 325.8 170.4 330.0 171.3 L330.0 176.3 C325.8 175.7 312.5 173.8 305.0 172.9 C297.5 171.9 291.7 171.2 285.0 170.6 C278.3 170.1 275.9 169.9 265.0 169.3 C254.1 168.8 227.0 167.8 219.4 167.5Z" fill="url(#g71)"/><path d="M219.4 160.4 C227.0 160.6 254.1 161.2 265.0 161.7 C275.9 162.2 278.3 162.6 285.0 163.5 C291.7 164.4 297.5 165.6 305.0 167.0 C312.5 168.4 325.8 171.3 330.0 172.2 L330.0 175.4 C325.8 174.8 312.5 172.7 305.0 171.6 C297.5 170.6 291.7 169.8 285.0 169.1 C278.3 168.5 275.9 168.2 265.0 167.7 C254.1 167.2 227.0 166.3 219.4 166.0Z" fill="url(#g72)"/><path d="M219.4 161.7 C227.0 161.9 254.1 162.5 265.0 163.0 C275.9 163.6 278.3 163.9 285.0 164.8 C291.7 165.6 297.5 166.7 305.0 168.0 C312.5 169.4 325.8 172.1 330.0 172.9 L330.0 174.7 C325.8 174.0 312.5 171.7 305.0 170.6 C297.5 169.4 291.7 168.5 285.0 167.8 C278.3 167.1 275.9 166.9 265.0 166.3 C254.1 165.8 227.0 165.0 219.4 164.7Z" fill="url(#g73)"/><path d="M219.4 169.9 L285.0 173.4 L285.0 175.8 L219.4 172.2Z" fill="url(#g74)"/><path d="M219.4 170.3 L285.0 173.8 L285.0 175.3 L219.4 171.8Z" fill="url(#g75)"/><path d="M219.4 170.7 L285.0 174.2 L285.0 175.0 L219.4 171.5Z" fill="url(#g76)"/><path d="M219.4 192.9 C226.5 193.3 251.1 194.2 262.0 195.0 C272.9 195.9 278.0 196.9 285.0 198.0 C292.0 199.1 300.8 201.1 304.0 201.7 L304.0 206.3 C300.8 206.1 292.0 205.3 285.0 204.8 C278.0 204.3 272.9 204.0 262.0 203.4 C251.1 202.8 226.5 201.6 219.4 201.3Z" fill="url(#g77)"/><path d="M219.4 194.4 C226.5 194.8 251.1 195.7 262.0 196.5 C272.9 197.3 278.0 198.2 285.0 199.2 C292.0 200.2 300.8 201.9 304.0 202.5 L304.0 205.5 C300.8 205.2 292.0 204.2 285.0 203.6 C278.0 203.0 272.9 202.5 262.0 201.9 C251.1 201.3 226.5 200.2 219.4 199.8Z" fill="url(#g78)"/><path d="M219.4 195.6 C226.5 196.0 251.1 197.0 262.0 197.7 C272.9 198.5 278.0 199.3 285.0 200.2 C292.0 201.1 300.8 202.7 304.0 203.2 L304.0 204.8 C300.8 204.5 292.0 203.3 285.0 202.6 C278.0 201.9 272.9 201.4 262.0 200.7 C251.1 200.0 226.5 198.9 219.4 198.6Z" fill="url(#g79)"/><path d="M219.4 227.4 L282.0 231.0 L282.0 238.2 L219.4 234.5Z" fill="url(#g80)"/><path d="M219.4 228.7 L282.0 232.3 L282.0 236.9 L219.4 233.3Z" fill="url(#g81)"/><path d="M219.4 229.7 L282.0 233.3 L282.0 235.9 L219.4 232.2Z" fill="url(#g82)"/></g></g></g><g clip-path="url(#clipC)"><rect x="417.2" y="23.8" width="143.3" height="211.9" fill="#0f0a08"/><g filter="url(#hot)"><rect x="407.2" y="13.8" width="163.3" height="231.9" fill="#000"/><g filter="url(#bl)"><path d="M411.2 25.2 L470.0 25.8 L470.0 28.2 L411.2 27.5Z" fill="url(#g83)"/><path d="M411.2 25.6 L470.0 26.2 L470.0 27.8 L411.2 27.1Z" fill="url(#g84)"/><path d="M411.2 25.9 L470.0 26.6 L470.0 27.4 L411.2 26.7Z" fill="url(#g85)"/><path d="M411.2 28.7 L470.0 29.1 L470.0 31.5 L411.2 31.2Z" fill="url(#g86)"/><path d="M411.2 29.2 L470.0 29.5 L470.0 31.1 L411.2 30.8Z" fill="url(#g87)"/><path d="M411.2 29.5 L470.0 29.9 L470.0 30.7 L411.2 30.4Z" fill="url(#g88)"/><path d="M411.2 33.7 L470.0 34.3 L470.0 36.7 L411.2 36.2Z" fill="url(#g89)"/><path d="M411.2 34.1 L470.0 34.7 L470.0 36.3 L411.2 35.7Z" fill="url(#g90)"/><path d="M411.2 34.5 L470.0 35.1 L470.0 35.9 L411.2 35.4Z" fill="url(#g91)"/><path d="M440.0 36.4 L475.0 36.8 L475.0 39.2 L440.0 38.8Z" fill="url(#g92)"/><path d="M440.0 36.9 L475.0 37.2 L475.0 38.8 L440.0 38.4Z" fill="url(#g93)"/><path d="M440.0 37.2 L475.0 37.6 L475.0 38.4 L440.0 38.0Z" fill="url(#g94)"/><path d="M411.2 40.0 L500.0 42.3 L500.0 44.7 L411.2 42.3Z" fill="url(#g95)"/><path d="M411.2 40.4 L500.0 42.8 L500.0 44.2 L411.2 41.9Z" fill="url(#g96)"/><path d="M411.2 40.7 L500.0 43.1 L500.0 43.9 L411.2 41.6Z" fill="url(#g97)"/><path d="M411.2 44.4 L480.0 45.8 L480.0 48.2 L411.2 46.7Z" fill="url(#g98)"/><path d="M411.2 44.8 L480.0 46.2 L480.0 47.8 L411.2 46.3Z" fill="url(#g99)"/><path d="M411.2 45.2 L480.0 46.6 L480.0 47.4 L411.2 46.0Z" fill="url(#g100)"/><path d="M458.0 25.0 C461.3 24.8 471.8 24.3 478.0 24.0 C484.2 23.6 486.5 23.2 495.0 22.9 C503.5 22.6 517.1 22.2 529.0 22.2 C540.9 22.2 560.2 22.7 566.5 22.8 L566.5 38.6 C560.2 37.7 540.9 34.4 529.0 33.0 C517.1 31.6 503.5 30.8 495.0 30.1 C486.5 29.3 484.2 29.1 478.0 28.6 C471.8 28.2 461.3 27.6 458.0 27.4Z" fill="url(#g101)"/><path d="M458.0 25.4 C461.3 25.3 471.8 25.0 478.0 24.8 C484.2 24.6 486.5 24.3 495.0 24.2 C503.5 24.1 517.1 23.9 529.0 24.1 C540.9 24.3 560.2 25.3 566.5 25.6 L566.5 35.8 C560.2 35.0 540.9 32.3 529.0 31.1 C517.1 29.9 503.5 29.4 495.0 28.8 C486.5 28.2 484.2 28.1 478.0 27.8 C471.8 27.5 461.3 27.1 458.0 27.0Z" fill="url(#g102)"/><path d="M458.0 25.8 C461.3 25.7 471.8 25.6 478.0 25.5 C484.2 25.4 486.5 25.2 495.0 25.2 C503.5 25.3 517.1 25.2 529.0 25.7 C540.9 26.1 560.2 27.5 566.5 27.9 L566.5 33.5 C560.2 32.8 540.9 30.5 529.0 29.5 C517.1 28.6 503.5 28.2 495.0 27.8 C486.5 27.4 484.2 27.3 478.0 27.1 C471.8 26.9 461.3 26.7 458.0 26.6Z" fill="url(#g103)"/><path d="M455.0 30.0 C458.8 30.3 471.3 30.9 478.0 31.3 C484.7 31.7 489.2 32.0 495.0 32.5 C500.8 32.9 507.3 33.5 513.0 33.8 C518.7 34.2 523.7 34.3 529.0 34.7 C534.3 35.0 538.8 35.4 545.0 36.1 C551.2 36.8 562.9 38.4 566.5 38.9 L566.5 54.4 C562.9 53.6 551.2 51.2 545.0 49.7 C538.8 48.2 534.3 47.1 529.0 45.5 C523.7 44.0 518.7 41.9 513.0 40.4 C507.3 38.8 500.8 37.4 495.0 36.3 C489.2 35.3 484.7 34.9 478.0 34.3 C471.3 33.6 458.8 32.7 455.0 32.4Z" fill="url(#g104)"/><path d="M455.0 30.4 C458.8 30.7 471.3 31.4 478.0 31.8 C484.7 32.3 489.2 32.6 495.0 33.1 C500.8 33.7 507.3 34.4 513.0 35.0 C518.7 35.6 523.7 36.0 529.0 36.6 C534.3 37.2 538.8 37.7 545.0 38.5 C551.2 39.3 562.9 41.1 566.5 41.6 L566.5 51.6 C562.9 50.9 551.2 48.6 545.0 47.3 C538.8 46.0 534.3 45.0 529.0 43.6 C523.7 42.2 518.7 40.5 513.0 39.2 C507.3 37.9 500.8 36.6 495.0 35.6 C489.2 34.7 484.7 34.4 478.0 33.8 C471.3 33.1 458.8 32.2 455.0 31.9Z" fill="url(#g105)"/><path d="M455.0 30.8 C458.8 31.0 471.3 31.8 478.0 32.3 C484.7 32.8 489.2 33.1 495.0 33.7 C500.8 34.3 507.3 35.2 513.0 35.9 C518.7 36.7 523.7 37.4 529.0 38.2 C534.3 38.9 538.8 39.5 545.0 40.5 C551.2 41.4 562.9 43.3 566.5 43.9 L566.5 49.4 C562.9 48.7 551.2 46.5 545.0 45.3 C538.8 44.1 534.3 43.2 529.0 42.0 C523.7 40.8 518.7 39.4 513.0 38.3 C507.3 37.1 500.8 35.9 495.0 35.1 C489.2 34.3 484.7 33.9 478.0 33.3 C471.3 32.7 458.8 31.9 455.0 31.6Z" fill="url(#g106)"/><path d="M466.0 28.5 C470.8 28.8 484.5 29.3 495.0 30.1 C505.5 31.0 517.1 32.3 529.0 33.5 C540.9 34.8 560.2 37.0 566.5 37.7 L566.5 39.4 C560.2 38.7 540.9 36.5 529.0 35.2 C517.1 34.0 505.5 32.7 495.0 31.9 C484.5 31.0 470.8 30.5 466.0 30.2Z" fill="url(#g107)"/><path d="M455.0 33.4 C459.2 33.7 471.5 34.6 480.0 35.4 C488.5 36.1 501.7 37.5 506.0 38.0 L506.0 40.4 C501.7 40.0 488.5 38.6 480.0 37.8 C471.5 37.1 459.2 36.2 455.0 35.8Z" fill="url(#g108)"/><path d="M455.0 33.8 C459.2 34.1 471.5 35.0 480.0 35.8 C488.5 36.6 501.7 38.0 506.0 38.4 L506.0 40.0 C501.7 39.6 488.5 38.2 480.0 37.4 C471.5 36.6 459.2 35.7 455.0 35.4Z" fill="url(#g109)"/><path d="M455.0 34.2 C459.2 34.5 471.5 35.4 480.0 36.2 C488.5 36.9 501.7 38.3 506.0 38.8 L506.0 39.6 C501.7 39.2 488.5 37.8 480.0 37.0 C471.5 36.3 459.2 35.4 455.0 35.0Z" fill="url(#g110)"/><path d="M411.2 50.2 C417.7 50.3 439.5 50.2 450.0 50.8 C460.5 51.3 466.2 52.1 474.0 53.5 C481.8 54.9 493.2 58.1 497.0 59.0 L497.0 64.6 C493.2 64.2 481.8 63.1 474.0 62.5 C466.2 61.9 460.5 61.4 450.0 61.0 C439.5 60.7 417.7 60.5 411.2 60.4Z" fill="url(#g111)"/><path d="M411.2 52.0 C417.7 52.1 439.5 52.1 450.0 52.6 C460.5 53.1 466.2 53.9 474.0 55.1 C481.8 56.3 493.2 59.2 497.0 60.0 L497.0 63.6 C493.2 63.1 481.8 61.6 474.0 60.9 C466.2 60.2 460.5 59.6 450.0 59.2 C439.5 58.8 417.7 58.7 411.2 58.6Z" fill="url(#g112)"/><path d="M411.2 53.5 C417.7 53.6 439.5 53.6 450.0 54.1 C460.5 54.6 466.2 55.3 474.0 56.4 C481.8 57.5 493.2 60.1 497.0 60.8 L497.0 62.8 C493.2 62.3 481.8 60.4 474.0 59.6 C466.2 58.7 460.5 58.1 450.0 57.7 C439.5 57.3 417.7 57.2 411.2 57.1Z" fill="url(#g113)"/><path d="M411.2 62.6 L470.0 63.8 L470.0 66.2 L411.2 65.1Z" fill="url(#g114)"/><path d="M411.2 63.1 L470.0 64.2 L470.0 65.8 L411.2 64.7Z" fill="url(#g115)"/><path d="M411.2 63.4 L470.0 64.6 L470.0 65.4 L411.2 64.3Z" fill="url(#g116)"/><path d="M411.2 68.0 L470.0 68.6 L470.0 71.0 L411.2 70.5Z" fill="url(#g117)"/><path d="M411.2 68.4 L470.0 69.0 L470.0 70.6 L411.2 70.0Z" fill="url(#g118)"/><path d="M411.2 68.8 L470.0 69.4 L470.0 70.2 L411.2 69.7Z" fill="url(#g119)"/><path d="M411.2 73.5 L540.0 73.5 L540.0 76.1 L411.2 76.1Z" fill="url(#g120)"/><path d="M411.2 74.0 L540.0 74.0 L540.0 75.6 L411.2 75.6Z" fill="url(#g121)"/><path d="M414.2 73.2 L441.0 73.2 L441.0 75.9 L414.2 75.9Z" fill="url(#g122)"/><path d="M414.2 73.7 L441.0 73.7 L441.0 75.5 L414.2 75.5Z" fill="url(#g123)"/><path d="M443.0 72.6 L461.0 72.6 L461.0 75.2 L443.0 75.2Z" fill="url(#g124)"/><path d="M443.0 73.0 L461.0 73.0 L461.0 74.8 L443.0 74.8Z" fill="url(#g125)"/><path d="M464.0 73.9 L479.0 73.9 L479.0 76.5 L464.0 76.5Z" fill="url(#g126)"/><path d="M464.0 74.3 L479.0 74.3 L479.0 76.1 L464.0 76.1Z" fill="url(#g127)"/><path d="M481.0 73.7 L495.0 73.7 L495.0 76.3 L481.0 76.3Z" fill="url(#g128)"/><path d="M481.0 74.1 L495.0 74.1 L495.0 75.9 L481.0 75.9Z" fill="url(#g129)"/><path d="M497.0 73.7 L511.0 73.7 L511.0 76.3 L497.0 76.3Z" fill="url(#g130)"/><path d="M497.0 74.1 L511.0 74.1 L511.0 75.9 L497.0 75.9Z" fill="url(#g131)"/><path d="M511.0 73.5 L528.0 73.5 L528.0 76.1 L511.0 76.1Z" fill="url(#g132)"/><path d="M511.0 73.9 L528.0 73.9 L528.0 75.7 L511.0 75.7Z" fill="url(#g133)"/><path d="M414.2 76.5 L426.0 76.5 L426.0 78.7 L414.2 78.7Z" fill="url(#g134)"/><path d="M414.2 76.8 L426.0 76.8 L426.0 78.3 L414.2 78.3Z" fill="url(#g135)"/><path d="M447.0 76.4 L459.0 76.4 L459.0 78.6 L447.0 78.6Z" fill="url(#g136)"/><path d="M447.0 76.8 L459.0 76.8 L459.0 78.2 L447.0 78.2Z" fill="url(#g137)"/><path d="M480.0 76.5 L496.0 76.5 L496.0 78.7 L480.0 78.7Z" fill="url(#g138)"/><path d="M480.0 76.8 L496.0 76.8 L496.0 78.3 L480.0 78.3Z" fill="url(#g139)"/><path d="M506.0 71.5 L530.0 71.5 L530.0 73.7 L506.0 73.7Z" fill="url(#g140)"/><path d="M506.0 71.8 L530.0 71.8 L530.0 73.3 L506.0 73.3Z" fill="url(#g141)"/><path d="M503.0 73.8 C507.5 73.5 519.4 72.7 530.0 72.3 C540.6 72.0 560.4 72.0 566.5 72.0 L566.5 79.7 C560.4 79.6 540.6 79.3 530.0 78.8 C519.4 78.4 507.5 77.3 503.0 77.0Z" fill="url(#g142)"/><path d="M503.0 74.1 C507.5 73.9 519.4 73.2 530.0 73.0 C540.6 72.8 560.4 72.8 566.5 72.7 L566.5 78.9 C560.4 78.8 540.6 78.6 530.0 78.2 C519.4 77.8 507.5 77.0 503.0 76.7Z" fill="url(#g143)"/><path d="M525.0 74.3 C528.3 74.2 538.1 73.8 545.0 73.7 C551.9 73.6 562.9 73.8 566.5 73.8 L566.5 78.8 C562.9 78.7 551.9 78.4 545.0 78.1 C538.1 77.8 528.3 77.1 525.0 76.9Z" fill="url(#g144)"/><path d="M525.0 74.6 C528.3 74.5 538.1 74.2 545.0 74.2 C551.9 74.2 562.9 74.4 566.5 74.4 L566.5 78.2 C562.9 78.1 551.9 77.9 545.0 77.6 C538.1 77.3 528.3 76.8 525.0 76.6Z" fill="url(#g145)"/><path d="M540.0 76.0 L566.5 76.1 L566.5 78.0 L540.0 77.0Z" fill="url(#g146)"/><path d="M515.0 64.1 C519.2 63.5 531.4 61.1 540.0 60.2 C548.6 59.4 562.1 59.3 566.5 59.1 L566.5 71.6 C562.1 71.5 548.6 71.6 540.0 71.0 C531.4 70.4 519.2 68.4 515.0 67.9Z" fill="url(#g147)"/><path d="M515.0 64.5 C519.2 64.0 531.4 62.0 540.0 61.3 C548.6 60.6 562.1 60.5 566.5 60.3 L566.5 70.3 C562.1 70.3 548.6 70.4 540.0 69.9 C531.4 69.4 519.2 67.9 515.0 67.5Z" fill="url(#g148)"/><path d="M535.0 66.3 C537.5 66.2 544.8 65.7 550.0 65.5 C555.2 65.3 563.8 65.3 566.5 65.3 L566.5 69.9 C563.8 69.9 555.2 69.9 550.0 69.7 C544.8 69.5 537.5 69.0 535.0 68.9Z" fill="url(#g149)"/><path d="M535.0 66.6 C537.5 66.5 544.8 66.1 550.0 66.0 C555.2 65.9 563.8 65.8 566.5 65.8 L566.5 69.4 C563.8 69.4 555.2 69.3 550.0 69.2 C544.8 69.1 537.5 68.7 535.0 68.6Z" fill="url(#g150)"/><path d="M411.2 81.9 C417.7 82.2 439.9 82.6 450.0 83.3 C460.1 84.1 468.3 85.8 472.0 86.3 L472.0 92.5 C468.3 92.5 460.1 92.9 450.0 92.7 C439.9 92.4 417.7 91.5 411.2 91.2Z" fill="url(#g151)"/><path d="M411.2 83.6 C417.7 83.8 439.9 84.4 450.0 85.0 C460.1 85.6 468.3 87.0 472.0 87.4 L472.0 91.4 C468.3 91.3 460.1 91.3 450.0 91.0 C439.9 90.7 417.7 89.8 411.2 89.6Z" fill="url(#g152)"/><path d="M411.2 84.9 C417.7 85.2 439.9 85.8 450.0 86.3 C460.1 86.9 468.3 88.0 472.0 88.3 L472.0 90.5 C468.3 90.4 460.1 90.0 450.0 89.7 C439.9 89.3 417.7 88.5 411.2 88.2Z" fill="url(#g153)"/><path d="M411.2 91.6 L450.0 92.8 L450.0 95.2 L411.2 94.1Z" fill="url(#g154)"/><path d="M411.2 92.0 L450.0 93.2 L450.0 94.8 L411.2 93.6Z" fill="url(#g155)"/><path d="M411.2 92.4 L450.0 93.6 L450.0 94.4 L411.2 93.3Z" fill="url(#g156)"/><path d="M411.2 100.6 C417.7 100.8 436.5 102.1 450.0 102.0 C463.5 101.9 485.0 100.2 492.0 99.8 L492.0 102.6 C485.0 103.0 463.5 104.7 450.0 104.8 C436.5 104.9 417.7 103.6 411.2 103.4Z" fill="url(#g157)"/><path d="M411.2 101.1 C417.7 101.3 436.5 102.6 450.0 102.5 C463.5 102.4 485.0 100.7 492.0 100.3 L492.0 102.1 C485.0 102.5 463.5 104.2 450.0 104.3 C436.5 104.4 417.7 103.1 411.2 102.9Z" fill="url(#g158)"/><path d="M411.2 101.5 C417.7 101.7 436.5 103.0 450.0 102.9 C463.5 102.8 485.0 101.1 492.0 100.7 L492.0 101.7 C485.0 102.1 463.5 103.8 450.0 103.9 C436.5 104.0 417.7 102.7 411.2 102.5Z" fill="url(#g159)"/><path d="M484.0 94.9 C487.5 94.8 497.3 93.8 505.0 94.1 C512.7 94.4 519.8 95.5 530.0 96.7 C540.2 97.9 560.4 100.5 566.5 101.3 L566.5 113.7 C560.4 113.1 540.2 111.1 530.0 109.7 C519.8 108.3 512.7 106.7 505.0 105.1 C497.3 103.5 487.5 100.9 484.0 100.1Z" fill="url(#g160)"/><path d="M484.0 95.5 C487.5 95.5 497.3 94.9 505.0 95.4 C512.7 95.8 519.8 97.0 530.0 98.2 C540.2 99.4 560.4 102.0 566.5 102.7 L566.5 112.3 C560.4 111.6 540.2 109.6 530.0 108.2 C519.8 106.8 512.7 105.2 505.0 103.8 C497.3 102.3 487.5 100.2 484.0 99.5Z" fill="url(#g161)"/><path d="M478.0 93.3 C481.7 93.3 493.0 93.1 500.0 93.5 C507.0 93.9 513.3 94.7 520.0 95.7 C526.7 96.6 532.2 98.2 540.0 99.2 C547.8 100.3 562.1 101.7 566.5 102.1 L566.5 113.0 C562.1 112.3 547.8 110.3 540.0 109.2 C532.2 108.0 526.7 107.1 520.0 105.9 C513.3 104.7 507.0 103.5 500.0 102.1 C493.0 100.8 481.7 98.6 478.0 97.9Z" fill="url(#g162)"/><path d="M478.0 94.1 C481.7 94.2 493.0 94.4 500.0 95.0 C507.0 95.6 513.3 96.5 520.0 97.5 C526.7 98.5 532.2 99.9 540.0 101.0 C547.8 102.1 562.1 103.6 566.5 104.1 L566.5 111.1 C562.1 110.5 547.8 108.6 540.0 107.4 C532.2 106.2 526.7 105.2 520.0 104.1 C513.3 103.0 507.0 101.8 500.0 100.6 C493.0 99.4 481.7 97.7 478.0 97.1Z" fill="url(#g163)"/><path d="M478.0 94.8 C481.7 95.0 493.0 95.6 500.0 96.3 C507.0 97.0 513.3 98.0 520.0 99.0 C526.7 100.0 532.2 101.3 540.0 102.4 C547.8 103.5 562.1 105.1 566.5 105.6 L566.5 109.5 C562.1 108.9 547.8 107.1 540.0 106.0 C532.2 104.8 526.7 103.7 520.0 102.6 C513.3 101.5 507.0 100.4 500.0 99.3 C493.0 98.3 481.7 96.9 478.0 96.4Z" fill="url(#g164)"/><path d="M411.2 120.3 C418.5 120.8 444.0 122.5 455.0 123.3 C466.0 124.1 469.7 124.3 477.0 125.2 C484.3 126.1 492.3 127.6 499.0 128.7 C505.7 129.9 511.7 131.2 517.0 132.3 C522.3 133.4 526.3 134.6 531.0 135.4 C535.7 136.3 539.1 136.7 545.0 137.4 C550.9 138.1 562.9 139.3 566.5 139.7 L566.5 144.6 C562.9 144.3 550.9 143.4 545.0 143.0 C539.1 142.5 535.7 142.5 531.0 142.0 C526.3 141.4 522.3 140.6 517.0 139.7 C511.7 138.8 505.7 137.7 499.0 136.5 C492.3 135.2 484.3 133.5 477.0 132.4 C469.7 131.2 466.0 130.6 455.0 129.5 C444.0 128.4 418.5 126.2 411.2 125.6Z" fill="url(#g165)"/><path d="M411.2 121.2 C418.5 121.8 444.0 123.5 455.0 124.4 C466.0 125.3 469.7 125.6 477.0 126.5 C484.3 127.5 492.3 128.9 499.0 130.1 C505.7 131.3 511.7 132.5 517.0 133.6 C522.3 134.7 526.3 135.8 531.0 136.6 C535.7 137.4 539.1 137.7 545.0 138.4 C550.9 139.1 562.9 140.2 566.5 140.5 L566.5 143.7 C562.9 143.5 550.9 142.5 545.0 142.0 C539.1 141.5 535.7 141.4 531.0 140.8 C526.3 140.2 522.3 139.3 517.0 138.4 C511.7 137.5 505.7 136.3 499.0 135.1 C492.3 133.9 484.3 132.2 477.0 131.1 C469.7 130.0 466.0 129.5 455.0 128.4 C444.0 127.3 418.5 125.3 411.2 124.6Z" fill="url(#g166)"/><path d="M411.2 122.0 C418.5 122.5 444.0 124.4 455.0 125.3 C466.0 126.2 469.7 126.5 477.0 127.5 C484.3 128.5 492.3 130.0 499.0 131.2 C505.7 132.4 511.7 133.6 517.0 134.7 C522.3 135.7 526.3 136.8 531.0 137.5 C535.7 138.3 539.1 138.6 545.0 139.2 C550.9 139.8 562.9 140.9 566.5 141.3 L566.5 143.0 C562.9 142.7 550.9 141.7 545.0 141.2 C539.1 140.7 535.7 140.5 531.0 139.9 C526.3 139.2 522.3 138.3 517.0 137.3 C511.7 136.3 505.7 135.2 499.0 134.0 C492.3 132.8 484.3 131.1 477.0 130.1 C469.7 129.0 466.0 128.5 455.0 127.5 C444.0 126.5 418.5 124.5 411.2 123.9Z" fill="url(#g167)"/><path d="M411.2 130.1 C417.7 130.3 438.2 130.7 450.0 131.3 C461.8 131.9 476.7 133.5 482.0 133.9 L482.0 137.3 C476.7 136.9 461.8 135.3 450.0 134.7 C438.2 134.1 417.7 133.7 411.2 133.5Z" fill="url(#g168)"/><path d="M411.2 130.7 C417.7 130.9 438.2 131.3 450.0 131.9 C461.8 132.5 476.7 134.1 482.0 134.5 L482.0 136.7 C476.7 136.3 461.8 134.7 450.0 134.1 C438.2 133.5 417.7 133.1 411.2 132.9Z" fill="url(#g169)"/><path d="M411.2 131.2 C417.7 131.4 438.2 131.8 450.0 132.4 C461.8 133.0 476.7 134.6 482.0 135.0 L482.0 136.2 C476.7 135.8 461.8 134.2 450.0 133.6 C438.2 133.0 417.7 132.6 411.2 132.4Z" fill="url(#g170)"/><path d="M411.2 135.4 L470.0 137.7 L470.0 141.1 L411.2 138.8Z" fill="url(#g171)"/><path d="M411.2 136.0 L470.0 138.3 L470.0 140.5 L411.2 138.2Z" fill="url(#g172)"/><path d="M411.2 136.5 L470.0 138.8 L470.0 140.0 L411.2 137.7Z" fill="url(#g173)"/><path d="M411.2 140.6 L428.0 141.1 L428.0 143.5 L411.2 143.1Z" fill="url(#g174)"/><path d="M411.2 141.0 L428.0 141.5 L428.0 143.1 L411.2 142.6Z" fill="url(#g175)"/><path d="M411.2 141.4 L428.0 141.9 L428.0 142.7 L411.2 142.3Z" fill="url(#g176)"/><path d="M411.2 150.9 C414.3 151.3 424.4 152.4 430.0 153.0 C435.6 153.6 438.8 153.8 445.0 154.5 C451.2 155.2 459.0 155.7 467.0 157.0 C475.0 158.3 484.7 160.4 493.0 162.1 C501.3 163.8 504.8 165.4 517.0 167.3 C529.2 169.1 558.2 172.3 566.5 173.3 L566.5 178.0 C558.2 177.2 529.2 174.5 517.0 173.1 C504.8 171.8 501.3 171.1 493.0 169.9 C484.7 168.7 475.0 167.0 467.0 166.0 C459.0 165.0 451.2 164.7 445.0 164.1 C438.8 163.5 435.6 163.2 430.0 162.6 C424.4 162.0 414.3 160.6 411.2 160.2Z" fill="url(#g177)"/><path d="M411.2 152.6 C414.3 152.9 424.4 154.1 430.0 154.7 C435.6 155.3 438.8 155.6 445.0 156.2 C451.2 156.9 459.0 157.4 467.0 158.6 C475.0 159.8 484.7 161.9 493.0 163.5 C501.3 165.1 504.8 166.5 517.0 168.3 C529.2 170.1 558.2 173.2 566.5 174.2 L566.5 177.2 C558.2 176.3 529.2 173.5 517.0 172.1 C504.8 170.7 501.3 169.8 493.0 168.5 C484.7 167.2 475.0 165.4 467.0 164.4 C459.0 163.4 451.2 163.0 445.0 162.4 C438.8 161.8 435.6 161.5 430.0 160.9 C424.4 160.3 414.3 159.0 411.2 158.6Z" fill="url(#g178)"/><path d="M411.2 153.9 C414.3 154.3 424.4 155.5 430.0 156.1 C435.6 156.7 438.8 157.0 445.0 157.6 C451.2 158.2 459.0 158.7 467.0 159.9 C475.0 161.1 484.7 163.1 493.0 164.6 C501.3 166.2 504.8 167.5 517.0 169.2 C529.2 170.9 558.2 173.9 566.5 174.8 L566.5 176.5 C558.2 175.6 529.2 172.8 517.0 171.2 C504.8 169.7 501.3 168.7 493.0 167.4 C484.7 166.0 475.0 164.2 467.0 163.1 C459.0 162.0 451.2 161.6 445.0 161.0 C438.8 160.4 435.6 160.1 430.0 159.5 C424.4 158.9 414.3 157.6 411.2 157.2Z" fill="url(#g179)"/><path d="M411.2 164.2 C417.7 164.5 438.2 165.1 450.0 165.9 C461.8 166.7 476.7 168.7 482.0 169.3 L482.0 172.7 C476.7 172.1 461.8 170.1 450.0 169.3 C438.2 168.5 417.7 167.9 411.2 167.6Z" fill="url(#g180)"/><path d="M411.2 164.8 C417.7 165.1 438.2 165.7 450.0 166.5 C461.8 167.3 476.7 169.3 482.0 169.9 L482.0 172.1 C476.7 171.5 461.8 169.5 450.0 168.7 C438.2 167.9 417.7 167.3 411.2 167.0Z" fill="url(#g181)"/><path d="M411.2 165.3 C417.7 165.6 438.2 166.2 450.0 167.0 C461.8 167.8 476.7 169.8 482.0 170.4 L482.0 171.6 C476.7 171.0 461.8 169.0 450.0 168.2 C438.2 167.4 417.7 166.8 411.2 166.5Z" fill="url(#g182)"/><path d="M411.2 169.6 L440.0 170.4 L440.0 172.8 L411.2 172.1Z" fill="url(#g183)"/><path d="M411.2 170.0 L440.0 170.8 L440.0 172.4 L411.2 171.6Z" fill="url(#g184)"/><path d="M411.2 170.4 L440.0 171.2 L440.0 172.0 L411.2 171.3Z" fill="url(#g185)"/><path d="M411.2 187.2 C416.8 187.3 435.2 187.5 445.0 188.2 C454.8 188.9 462.5 190.2 470.0 191.5 C477.5 192.8 482.7 194.1 490.0 196.1 C497.3 198.1 510.0 202.2 514.0 203.5 L514.0 208.1 C510.0 207.4 497.3 204.8 490.0 203.5 C482.7 202.2 477.5 201.4 470.0 200.5 C462.5 199.5 454.8 198.5 445.0 197.8 C435.2 197.1 416.8 196.4 411.2 196.2Z" fill="url(#g186)"/><path d="M411.2 188.8 C416.8 189.0 435.2 189.2 445.0 189.9 C454.8 190.6 462.5 191.8 470.0 193.1 C477.5 194.3 482.7 195.5 490.0 197.4 C497.3 199.3 510.0 203.2 514.0 204.3 L514.0 207.3 C510.0 206.5 497.3 203.6 490.0 202.2 C482.7 200.8 477.5 199.9 470.0 198.9 C462.5 197.9 454.8 196.8 445.0 196.1 C435.2 195.4 416.8 194.8 411.2 194.6Z" fill="url(#g187)"/><path d="M411.2 190.1 C416.8 190.3 435.2 190.6 445.0 191.3 C454.8 192.0 462.5 193.2 470.0 194.4 C477.5 195.6 482.7 196.7 490.0 198.5 C497.3 200.2 510.0 203.9 514.0 205.0 L514.0 206.6 C510.0 205.7 497.3 202.6 490.0 201.1 C482.7 199.6 477.5 198.7 470.0 197.6 C462.5 196.5 454.8 195.4 445.0 194.7 C435.2 194.0 416.8 193.5 411.2 193.3Z" fill="url(#g188)"/><path d="M411.2 198.6 C416.0 198.7 431.5 198.9 440.0 199.4 C448.5 200.0 458.3 201.4 462.0 201.8 L462.0 205.0 C458.3 204.6 448.5 203.1 440.0 202.6 C431.5 202.0 416.0 201.8 411.2 201.7Z" fill="url(#g189)"/><path d="M411.2 199.1 C416.0 199.3 431.5 199.5 440.0 200.0 C448.5 200.5 458.3 202.0 462.0 202.4 L462.0 204.4 C458.3 204.0 448.5 202.5 440.0 202.0 C431.5 201.5 416.0 201.3 411.2 201.1Z" fill="url(#g190)"/><path d="M411.2 199.6 C416.0 199.7 431.5 199.9 440.0 200.4 C448.5 201.0 458.3 202.4 462.0 202.8 L462.0 204.0 C458.3 203.6 448.5 202.1 440.0 201.6 C431.5 201.0 416.0 200.8 411.2 200.7Z" fill="url(#g191)"/><path d="M411.2 220.5 C416.8 220.8 436.5 221.6 445.0 222.4 C453.5 223.3 455.2 223.9 462.0 225.5 C468.8 227.1 482.0 231.0 486.0 232.1 L486.0 236.7 C482.0 236.3 468.8 234.9 462.0 234.1 C455.2 233.4 453.5 233.0 445.0 232.4 C436.5 231.7 416.8 230.5 411.2 230.1Z" fill="url(#g192)"/><path d="M411.2 222.2 C416.8 222.6 436.5 223.4 445.0 224.2 C453.5 225.0 455.2 225.6 462.0 227.0 C468.8 228.4 482.0 231.9 486.0 232.9 L486.0 235.9 C482.0 235.4 468.8 233.5 462.0 232.6 C455.2 231.7 453.5 231.3 445.0 230.6 C436.5 229.9 416.8 228.8 411.2 228.4Z" fill="url(#g193)"/><path d="M411.2 223.6 C416.8 224.0 436.5 224.9 445.0 225.6 C453.5 226.4 455.2 226.9 462.0 228.3 C468.8 229.6 482.0 232.7 486.0 233.6 L486.0 235.2 C482.0 234.6 468.8 232.4 462.0 231.3 C455.2 230.3 453.5 229.9 445.0 229.2 C436.5 228.4 416.8 227.4 411.2 227.0Z" fill="url(#g194)"/><path d="M411.2 230.7 L450.0 232.8 L450.0 235.2 L411.2 233.2Z" fill="url(#g195)"/><path d="M411.2 231.2 L450.0 233.2 L450.0 234.8 L411.2 232.8Z" fill="url(#g196)"/><path d="M411.2 231.5 L450.0 233.6 L450.0 234.4 L411.2 232.4Z" fill="url(#g197)"/></g></g></g>
<g clip-path="url(#clipA)"><g fill="#5ec2f6"><rect x="34.90" y="106.6" width="2.3" height="2.4" rx=".5"/><rect x="39.09" y="106.6" width="2.3" height="2.4" rx=".5"/><rect x="43.28" y="106.6" width="2.3" height="2.4" rx=".5"/><rect x="47.47" y="106.6" width="2.3" height="2.4" rx=".5"/><rect x="51.66" y="106.6" width="2.3" height="2.4" rx=".5"/><rect x="55.85" y="106.6" width="2.3" height="2.4" rx=".5"/><rect x="60.04" y="106.6" width="2.3" height="2.4" rx=".5"/><rect x="64.23" y="106.6" width="2.3" height="2.4" rx=".5"/><rect x="68.42" y="106.6" width="2.3" height="2.4" rx=".5"/><rect x="72.61" y="106.6" width="2.3" height="2.4" rx=".5"/><rect x="76.80" y="106.6" width="2.3" height="2.4" rx=".5"/><rect x="80.99" y="106.6" width="2.3" height="2.4" rx=".5"/><rect x="85.18" y="106.6" width="2.3" height="2.4" rx=".5"/><rect x="89.37" y="106.6" width="2.3" height="2.4" rx=".5"/><rect x="93.56" y="106.6" width="2.3" height="2.4" rx=".5"/><rect x="97.75" y="106.6" width="2.3" height="2.4" rx=".5"/><rect x="101.94" y="106.6" width="2.3" height="2.4" rx=".5"/><rect x="106.13" y="106.6" width="2.3" height="2.4" rx=".5"/><rect x="110.32" y="106.6" width="2.3" height="2.4" rx=".5"/><rect x="114.51" y="106.6" width="2.3" height="2.4" rx=".5"/><rect x="118.70" y="106.6" width="2.3" height="2.4" rx=".5"/><rect x="122.89" y="106.6" width="2.3" height="2.4" rx=".5"/><rect x="127.08" y="106.6" width="2.3" height="2.4" rx=".5"/><rect x="131.27" y="106.6" width="2.3" height="2.4" rx=".5"/><rect x="135.46" y="106.6" width="2.3" height="2.4" rx=".5"/><rect x="139.65" y="106.6" width="2.3" height="2.4" rx=".5"/><rect x="143.84" y="106.6" width="2.3" height="2.4" rx=".5"/><rect x="148.03" y="106.6" width="2.3" height="2.4" rx=".5"/><rect x="152.22" y="106.6" width="2.3" height="2.4" rx=".5"/><rect x="156.41" y="106.6" width="2.3" height="2.4" rx=".5"/><rect x="160.60" y="106.6" width="2.3" height="2.4" rx=".5"/><rect x="164.79" y="106.6" width="2.3" height="2.4" rx=".5"/><rect x="168.98" y="106.6" width="2.3" height="2.4" rx=".5"/><rect x="173.17" y="106.6" width="2.3" height="2.4" rx=".5"/></g></g>
<g clip-path="url(#clipB)"><g fill="#5ec2f6"><rect x="225.40" y="106.6" width="2.3" height="2.4" rx=".5"/><rect x="229.59" y="106.6" width="2.3" height="2.4" rx=".5"/><rect x="233.77" y="106.6" width="2.3" height="2.4" rx=".5"/><rect x="237.96" y="106.6" width="2.3" height="2.4" rx=".5"/><rect x="242.14" y="106.6" width="2.3" height="2.4" rx=".5"/><rect x="246.32" y="106.6" width="2.3" height="2.4" rx=".5"/><rect x="250.51" y="106.6" width="2.3" height="2.4" rx=".5"/><rect x="254.69" y="106.6" width="2.3" height="2.4" rx=".5"/><rect x="258.88" y="106.6" width="2.3" height="2.4" rx=".5"/><rect x="263.06" y="106.6" width="2.3" height="2.4" rx=".5"/><rect x="267.25" y="106.6" width="2.3" height="2.4" rx=".5"/><rect x="271.44" y="106.6" width="2.3" height="2.4" rx=".5"/><rect x="275.62" y="106.6" width="2.3" height="2.4" rx=".5"/><rect x="279.81" y="106.6" width="2.3" height="2.4" rx=".5"/><rect x="283.99" y="106.6" width="2.3" height="2.4" rx=".5"/><rect x="288.18" y="106.6" width="2.3" height="2.4" rx=".5"/><rect x="292.36" y="106.6" width="2.3" height="2.4" rx=".5"/><rect x="296.55" y="106.6" width="2.3" height="2.4" rx=".5"/><rect x="300.73" y="106.6" width="2.3" height="2.4" rx=".5"/><rect x="304.91" y="106.6" width="2.3" height="2.4" rx=".5"/><rect x="309.10" y="106.6" width="2.3" height="2.4" rx=".5"/><rect x="313.28" y="106.6" width="2.3" height="2.4" rx=".5"/><rect x="317.47" y="106.6" width="2.3" height="2.4" rx=".5"/><rect x="321.65" y="106.6" width="2.3" height="2.4" rx=".5"/><rect x="325.84" y="106.6" width="2.3" height="2.4" rx=".5"/><rect x="330.02" y="106.6" width="2.3" height="2.4" rx=".5"/><rect x="334.21" y="106.6" width="2.3" height="2.4" rx=".5"/><rect x="338.39" y="106.6" width="2.3" height="2.4" rx=".5"/><rect x="342.58" y="106.6" width="2.3" height="2.4" rx=".5"/><rect x="346.76" y="106.6" width="2.3" height="2.4" rx=".5"/><rect x="350.95" y="106.6" width="2.3" height="2.4" rx=".5"/><rect x="355.13" y="106.6" width="2.3" height="2.4" rx=".5"/><rect x="359.32" y="106.6" width="2.3" height="2.4" rx=".5"/><rect x="363.50" y="106.6" width="2.3" height="2.4" rx=".5"/></g><path d="M225 91.75 L368.2 107.6" stroke="#22a849" stroke-width="1.6" fill="none"/></g>
<g fill="#5ec2f6"><rect x="415.90" y="106.6" width="2.3" height="2.4" rx=".5"/><rect x="420.08" y="106.6" width="2.3" height="2.4" rx=".5"/><rect x="424.27" y="106.6" width="2.3" height="2.4" rx=".5"/><rect x="428.45" y="106.6" width="2.3" height="2.4" rx=".5"/><rect x="432.64" y="106.6" width="2.3" height="2.4" rx=".5"/><rect x="436.82" y="106.6" width="2.3" height="2.4" rx=".5"/><rect x="441.01" y="106.6" width="2.3" height="2.4" rx=".5"/><rect x="445.19" y="106.6" width="2.3" height="2.4" rx=".5"/><rect x="449.38" y="106.6" width="2.3" height="2.4" rx=".5"/><rect x="453.56" y="106.6" width="2.3" height="2.4" rx=".5"/><rect x="457.75" y="106.6" width="2.3" height="2.4" rx=".5"/><rect x="461.93" y="106.6" width="2.3" height="2.4" rx=".5"/><rect x="466.12" y="106.6" width="2.3" height="2.4" rx=".5"/><rect x="470.30" y="106.6" width="2.3" height="2.4" rx=".5"/><rect x="474.49" y="106.6" width="2.3" height="2.4" rx=".5"/><rect x="478.67" y="106.6" width="2.3" height="2.4" rx=".5"/><rect x="482.86" y="106.6" width="2.3" height="2.4" rx=".5"/><rect x="487.04" y="106.6" width="2.3" height="2.4" rx=".5"/><rect x="491.23" y="106.6" width="2.3" height="2.4" rx=".5"/><rect x="495.41" y="106.6" width="2.3" height="2.4" rx=".5"/><rect x="499.60" y="106.6" width="2.3" height="2.4" rx=".5"/><rect x="503.78" y="106.6" width="2.3" height="2.4" rx=".5"/><rect x="507.97" y="106.6" width="2.3" height="2.4" rx=".5"/><rect x="512.15" y="106.6" width="2.3" height="2.4" rx=".5"/><rect x="516.34" y="106.6" width="2.3" height="2.4" rx=".5"/><rect x="520.52" y="106.6" width="2.3" height="2.4" rx=".5"/><rect x="524.71" y="106.6" width="2.3" height="2.4" rx=".5"/><rect x="528.89" y="106.6" width="2.3" height="2.4" rx=".5"/><rect x="533.08" y="106.6" width="2.3" height="2.4" rx=".5"/><rect x="537.26" y="106.6" width="2.3" height="2.4" rx=".5"/><rect x="541.45" y="106.6" width="2.3" height="2.4" rx=".5"/><rect x="545.63" y="106.6" width="2.3" height="2.4" rx=".5"/><rect x="549.82" y="106.6" width="2.3" height="2.4" rx=".5"/><rect x="554.00" y="106.6" width="2.3" height="2.4" rx=".5"/><rect x="558.19" y="106.6" width="2.3" height="2.4" rx=".5"/></g>
<rect x="570.4" y="24.2" width="12.5" height="210.5" fill="url(#cbar)"/>
<path d="M570.5 234.7 V24.3 H582.9 V234.7" fill="none" stroke="#999" stroke-width="0.7"/>
<path d="M580.9 65.8H582.9M580.9 107.5H582.9M580.9 149.1H582.9M580.9 190.7H582.9" stroke="#333" stroke-width=".7"/>
<g class="cb"><text x="585.7" y="28.1" class="cb">1</text><text x="585.7" y="69.4" class="cb">0.8</text><text x="585.7" y="111.1" class="cb">0.6</text><text x="585.7" y="152.7" class="cb">0.4</text><text x="585.7" y="194.3" class="cb">0.2</text><text x="585.7" y="235.6" class="cb">0</text></g>
<text x="-0.4" y="15.6" class="pl" textLength="12" lengthAdjust="spacingAndGlyphs">a)</text>
<text x="208.4" y="15.2" class="pl" textLength="11.8" lengthAdjust="spacingAndGlyphs">b)</text>
<text x="417" y="15.2" class="pl" textLength="11.4" lengthAdjust="spacingAndGlyphs">c)</text>
<text y="12.4" class="tt"><tspan x="50.2">I</tspan><tspan x="54.6" y="19" class="ss">L</tspan><tspan x="63.6" y="12.4">=</tspan><tspan x="73.2">2</tspan><tspan x="84.0">x</tspan><tspan x="93.8">10</tspan><tspan x="105.7" y="7.2" class="ss">12</tspan><tspan x="120.5" y="12.4" letter-spacing="0.45">W/cm</tspan><tspan x="153.4" y="7.2" class="ss">2</tspan></text><text y="12.4" class="tt"><tspan x="242.6">I</tspan><tspan x="247.0" y="19" class="ss">L</tspan><tspan x="256.0" y="12.4">=</tspan><tspan x="265.9">4</tspan><tspan x="276.4">x</tspan><tspan x="286.2">10</tspan><tspan x="298.1" y="7.2" class="ss">12</tspan><tspan x="312.9" y="12.4" letter-spacing="0.45">W/cm</tspan><tspan x="345.8" y="7.2" class="ss">2</tspan></text><text y="12.4" class="tt"><tspan x="434.9">I</tspan><tspan x="439.3" y="19" class="ss">L</tspan><tspan x="448.3" y="12.4">=</tspan><tspan x="458.2">6</tspan><tspan x="468.7">x</tspan><tspan x="478.5">10</tspan><tspan x="490.4" y="7.2" class="ss">12</tspan><tspan x="505.2" y="12.4" letter-spacing="0.45">W/cm</tspan><tspan x="538.1" y="7.2" class="ss">2</tspan></text>
<text x="30.2" y="44.9" class="tk" text-anchor="end">2</text><text x="30.2" y="66.8" class="tk" text-anchor="end">3</text><text x="30.2" y="88.8" class="tk" text-anchor="end">4</text><text x="30.2" y="110.7" class="tk" text-anchor="end">5</text><text x="30.2" y="132.7" class="tk" text-anchor="end">6</text><text x="30.2" y="154.6" class="tk" text-anchor="end">7</text><text x="30.2" y="176.5" class="tk" text-anchor="end">8</text><text x="30.2" y="198.5" class="tk" text-anchor="end">9</text><text x="30.2" y="220.4" class="tk" text-anchor="end">10</text><text x="63.9" y="251.2" class="tk" text-anchor="middle">20</text><text x="97.0" y="251.2" class="tk" text-anchor="middle">40</text><text x="130.1" y="251.2" class="tk" text-anchor="middle">60</text><text x="163.3" y="251.2" class="tk" text-anchor="middle">80</text><text x="108.2" y="267" class="lb" text-anchor="middle">Theta in deg</text><text x="256.0" y="251.2" class="tk" text-anchor="middle">20</text><text x="289.1" y="251.2" class="tk" text-anchor="middle">40</text><text x="322.2" y="251.2" class="tk" text-anchor="middle">60</text><text x="355.4" y="251.2" class="tk" text-anchor="middle">80</text><text x="300.1" y="267" class="lb" text-anchor="middle">Theta in deg</text><text x="448.3" y="251.2" class="tk" text-anchor="middle">20</text><text x="481.4" y="251.2" class="tk" text-anchor="middle">40</text><text x="514.5" y="251.2" class="tk" text-anchor="middle">60</text><text x="547.6" y="251.2" class="tk" text-anchor="middle">80</text><text x="492.1" y="267" class="lb" text-anchor="middle">Theta in deg</text>
<text transform="translate(13.0,130.6) rotate(-90)" class="lb" text-anchor="middle">Kinetic energy in eV</text>
<text x="181.8" y="40.2" class="sb">-1<tspan dy="-3.8" dx="0.3" font-size="8.8">st</tspan></text>
<text x="180" y="75.4" class="sb" style="font-weight:bold;font-size:10.2px;stroke-width:.15px">Main line</text>
<text x="182.9" y="111.7" class="sb">+<tspan x="189.4">1</tspan><tspan dy="-3.8" dx="0.3" font-size="8.8">st</tspan></text>
<text x="182.9" y="142.2" class="sb">+<tspan x="189.4">2</tspan><tspan dy="-3.8" dx="0.3" font-size="8.8">nd</tspan></text>
<text x="182.9" y="174.3" class="sb">+<tspan x="189.4">3</tspan><tspan dy="-3.8" dx="0.3" font-size="8.8">rd</tspan></text>
<text x="182.9" y="205" class="sb">+<tspan x="189.4">4</tspan><tspan dy="-3.8" dx="0.3" font-size="8.8">th</tspan></text>
<text transform="translate(218,142.5) rotate(-90)" text-anchor="middle" style="font-size:14.6px;fill:#000;stroke:#000;stroke-width:.3px">Sidebands</text>
</svg>
</body></html>
